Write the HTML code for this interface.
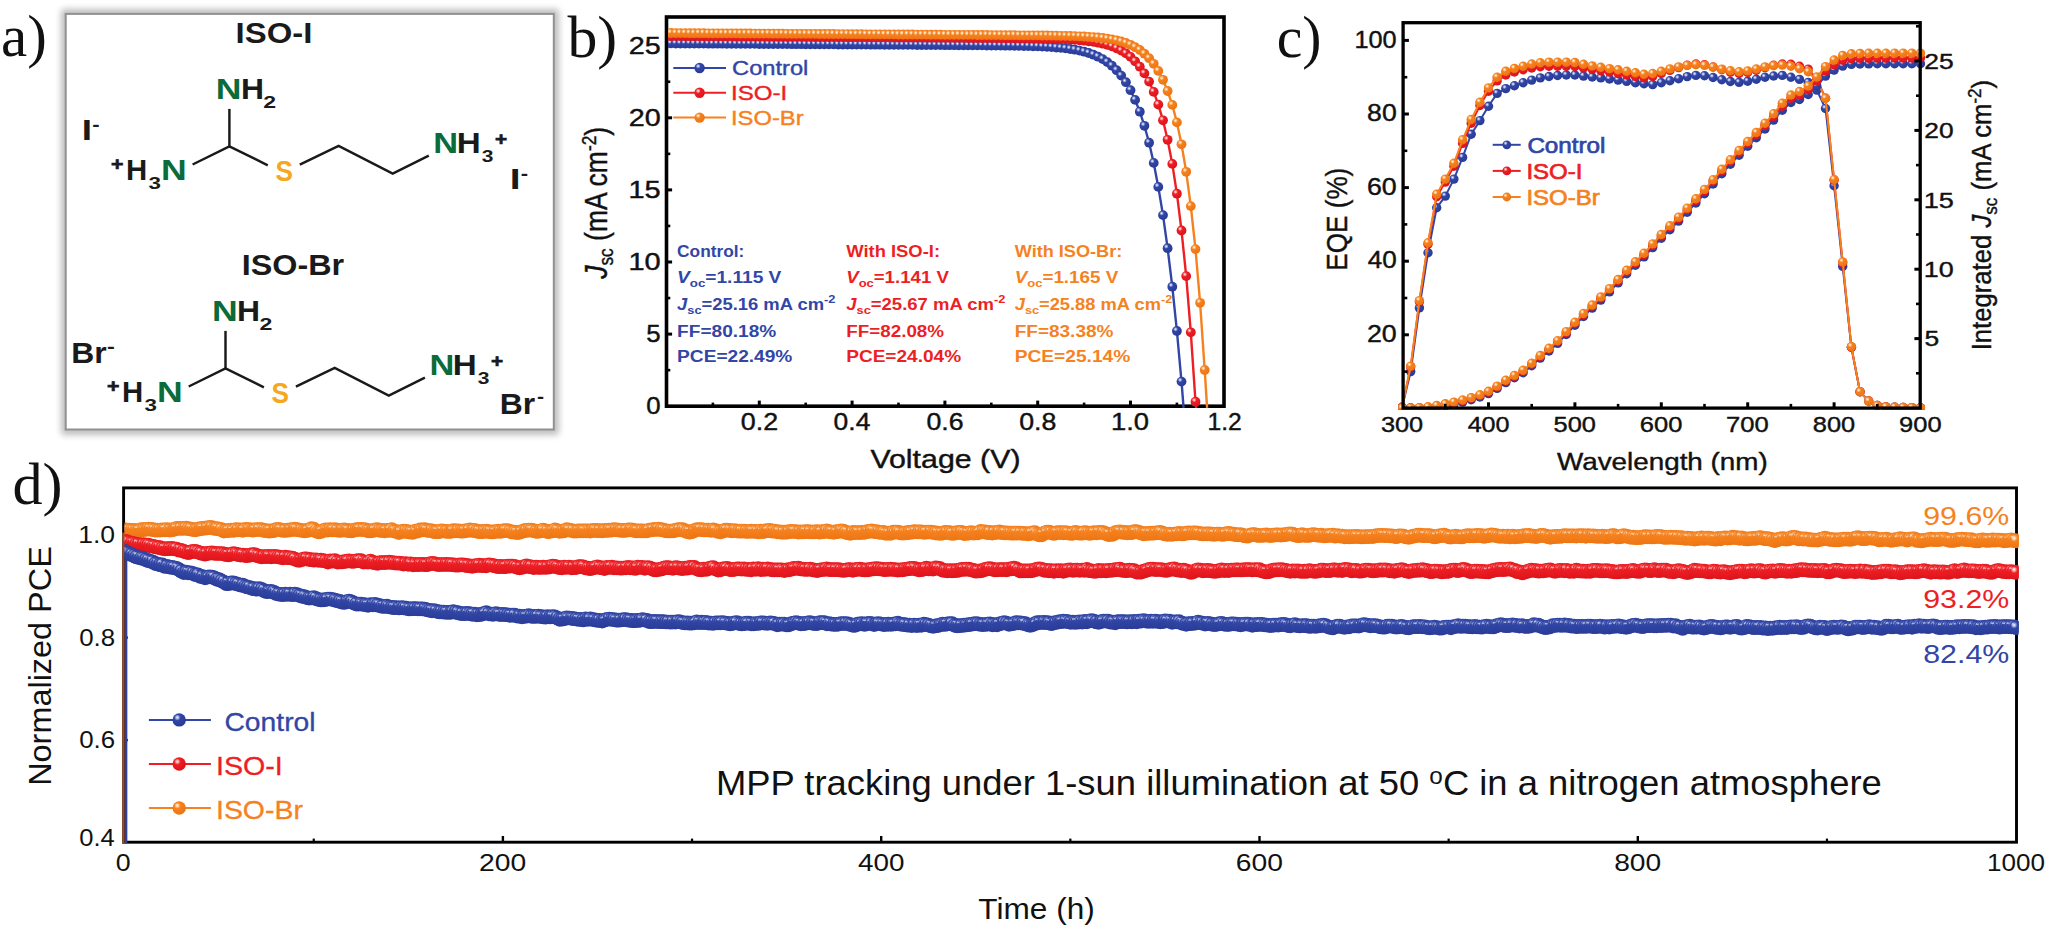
<!DOCTYPE html>
<html lang="en"><head><meta charset="utf-8"><title>ISO-I / ISO-Br perovskite solar cells figure</title>
<style>
html,body{margin:0;padding:0;background:#fff;}
body{width:2054px;height:931px;overflow:hidden;}
svg{display:block;font-family:"Liberation Sans", Arial, Helvetica, sans-serif;}
text{white-space:pre;}
.sf{font-family:"Liberation Serif", "Times New Roman", Times, serif;}
</style></head><body>
<svg width="2054" height="931" viewBox="0 0 2054 931">
<defs>
<radialGradient id="gB" cx="0.36" cy="0.32" r="0.62"><stop offset="0" stop-color="#f4f5fd"/><stop offset="0.13" stop-color="#bcc3ea"/><stop offset="0.38" stop-color="#3146a6"/><stop offset="1" stop-color="#2a3c98"/></radialGradient>
<radialGradient id="gR" cx="0.36" cy="0.32" r="0.62"><stop offset="0" stop-color="#fff3f3"/><stop offset="0.13" stop-color="#f9b9bb"/><stop offset="0.38" stop-color="#ed1f24"/><stop offset="1" stop-color="#df141c"/></radialGradient>
<radialGradient id="gO" cx="0.36" cy="0.32" r="0.62"><stop offset="0" stop-color="#fff7ee"/><stop offset="0.13" stop-color="#fcd7b0"/><stop offset="0.38" stop-color="#f5821f"/><stop offset="1" stop-color="#ee7613"/></radialGradient>
<marker id="mBb" markerWidth="11.8" markerHeight="11.8" refX="5.9" refY="5.9" markerUnits="userSpaceOnUse"><circle cx="5.9" cy="5.9" r="4.9" fill="url(#gB)"/></marker>
<marker id="mBc" markerWidth="11.4" markerHeight="11.4" refX="5.7" refY="5.7" markerUnits="userSpaceOnUse"><circle cx="5.7" cy="5.7" r="4.7" fill="url(#gB)"/></marker>
<marker id="mBd" markerWidth="16.7" markerHeight="16.7" refX="8.35" refY="8.35" markerUnits="userSpaceOnUse"><circle cx="8.35" cy="8.35" r="7.35" fill="url(#gB)"/></marker>
<marker id="mBl" markerWidth="15.2" markerHeight="15.2" refX="7.6" refY="7.6" markerUnits="userSpaceOnUse"><circle cx="7.6" cy="7.6" r="6.6" fill="url(#gB)"/></marker>
<marker id="mRb" markerWidth="11.8" markerHeight="11.8" refX="5.9" refY="5.9" markerUnits="userSpaceOnUse"><circle cx="5.9" cy="5.9" r="4.9" fill="url(#gR)"/></marker>
<marker id="mRc" markerWidth="11.4" markerHeight="11.4" refX="5.7" refY="5.7" markerUnits="userSpaceOnUse"><circle cx="5.7" cy="5.7" r="4.7" fill="url(#gR)"/></marker>
<marker id="mRd" markerWidth="16.7" markerHeight="16.7" refX="8.35" refY="8.35" markerUnits="userSpaceOnUse"><circle cx="8.35" cy="8.35" r="7.35" fill="url(#gR)"/></marker>
<marker id="mRl" markerWidth="15.2" markerHeight="15.2" refX="7.6" refY="7.6" markerUnits="userSpaceOnUse"><circle cx="7.6" cy="7.6" r="6.6" fill="url(#gR)"/></marker>
<marker id="mOb" markerWidth="11.8" markerHeight="11.8" refX="5.9" refY="5.9" markerUnits="userSpaceOnUse"><circle cx="5.9" cy="5.9" r="4.9" fill="url(#gO)"/></marker>
<marker id="mOc" markerWidth="11.4" markerHeight="11.4" refX="5.7" refY="5.7" markerUnits="userSpaceOnUse"><circle cx="5.7" cy="5.7" r="4.7" fill="url(#gO)"/></marker>
<marker id="mOd" markerWidth="16.7" markerHeight="16.7" refX="8.35" refY="8.35" markerUnits="userSpaceOnUse"><circle cx="8.35" cy="8.35" r="7.35" fill="url(#gO)"/></marker>
<marker id="mOl" markerWidth="15.2" markerHeight="15.2" refX="7.6" refY="7.6" markerUnits="userSpaceOnUse"><circle cx="7.6" cy="7.6" r="6.6" fill="url(#gO)"/></marker>

<filter id="blur" x="-10%" y="-10%" width="120%" height="120%"><feGaussianBlur stdDeviation="3.2"/></filter>
</defs>
<rect x="0" y="0" width="2054" height="931" fill="#fff"/>
<g>
<rect x="61" y="9" width="498" height="426" rx="3" fill="#8a8a8a" opacity="0.55" filter="url(#blur)"/>
<rect x="65.7" y="13.9" width="488.1" height="415.6" fill="#fff" stroke="#919191" stroke-width="2.0"/>
</g>
<text class="sf" transform="translate(1.03,56.40) scale(0.9833,1)" style="font-size:60px;fill:#111;">a)</text>
<text transform="translate(235.57,42.90) scale(1.1350,1)" style="font-size:29px;fill:#1a1a1a;font-weight:bold;">ISO-I</text>
<text transform="translate(215.87,99.40) scale(1.2444,1)" style="font-size:28.6px;fill:#0b6b3a;font-weight:bold;">N</text>
<text transform="translate(240.91,99.40) scale(1.1141,1)" style="font-size:28.6px;fill:#1a1a1a;font-weight:bold;">H</text>
<text transform="translate(263.30,107.80) scale(1.3908,1)" style="font-size:16.6px;fill:#1a1a1a;font-weight:bold;">2</text>
<text transform="translate(110.96,170.00) scale(1.1221,1)" style="font-size:19px;fill:#1a1a1a;font-weight:bold;" stroke="#1a1a1a" stroke-width="0.7">+</text>
<text transform="translate(125.98,180.30) scale(1.0252,1)" style="font-size:28.6px;fill:#1a1a1a;font-weight:bold;">H</text>
<text transform="translate(148.49,189.20) scale(1.3493,1)" style="font-size:16.6px;fill:#1a1a1a;font-weight:bold;">3</text>
<text transform="translate(160.97,180.30) scale(1.2444,1)" style="font-size:28.6px;fill:#0b6b3a;font-weight:bold;">N</text>
<text transform="translate(275.41,180.50) scale(0.9159,1)" style="font-size:28.6px;fill:#f5a81c;font-weight:bold;">S</text>
<text transform="translate(433.34,153.40) scale(1.2030,1)" style="font-size:28.6px;fill:#0b6b3a;font-weight:bold;">N</text>
<text transform="translate(456.72,153.40) scale(1.1615,1)" style="font-size:28.6px;fill:#1a1a1a;font-weight:bold;">H</text>
<text transform="translate(481.73,161.70) scale(1.2657,1)" style="font-size:16.6px;fill:#1a1a1a;font-weight:bold;">3</text>
<text transform="translate(494.98,144.50) scale(1.0909,1)" style="font-size:19px;fill:#1a1a1a;font-weight:bold;" stroke="#1a1a1a" stroke-width="0.7">+</text>
<polyline points="229.4,108.9 229.4,146.5" fill="none" stroke="#1a1a1a" stroke-width="2.45" stroke-linejoin="miter" stroke-linecap="butt"/>
<polyline points="192.6,164.5 229.4,146.3 267.8,165.3" fill="none" stroke="#1a1a1a" stroke-width="2.45" stroke-linejoin="miter" stroke-linecap="butt"/>
<polyline points="299.8,164.6 338.6,145.9 392.7,173.7 428.8,155.7" fill="none" stroke="#1a1a1a" stroke-width="2.45" stroke-linejoin="miter" stroke-linecap="butt"/>
<text transform="translate(81.87,140.40) scale(1.2941,1)" style="font-size:28.6px;fill:#1a1a1a;font-weight:bold;">I</text>
<text transform="translate(92.28,131.00) scale(1.1600,1)" style="font-size:19px;fill:#1a1a1a;font-weight:bold;">-</text>
<text transform="translate(509.84,189.00) scale(1.3647,1)" style="font-size:28.6px;fill:#1a1a1a;font-weight:bold;">I</text>
<text transform="translate(520.67,180.00) scale(1.1600,1)" style="font-size:19px;fill:#1a1a1a;font-weight:bold;">-</text>
<text transform="translate(241.71,274.80) scale(1.1151,1)" style="font-size:29px;fill:#1a1a1a;font-weight:bold;">ISO-Br</text>
<text transform="translate(211.97,321.40) scale(1.2444,1)" style="font-size:28.6px;fill:#0b6b3a;font-weight:bold;">N</text>
<text transform="translate(237.01,321.40) scale(1.1141,1)" style="font-size:28.6px;fill:#1a1a1a;font-weight:bold;">H</text>
<text transform="translate(259.40,329.80) scale(1.3908,1)" style="font-size:16.6px;fill:#1a1a1a;font-weight:bold;">2</text>
<text transform="translate(107.06,392.00) scale(1.1221,1)" style="font-size:19px;fill:#1a1a1a;font-weight:bold;" stroke="#1a1a1a" stroke-width="0.7">+</text>
<text transform="translate(122.08,402.30) scale(1.0252,1)" style="font-size:28.6px;fill:#1a1a1a;font-weight:bold;">H</text>
<text transform="translate(144.59,411.20) scale(1.3493,1)" style="font-size:16.6px;fill:#1a1a1a;font-weight:bold;">3</text>
<text transform="translate(157.07,402.30) scale(1.2444,1)" style="font-size:28.6px;fill:#0b6b3a;font-weight:bold;">N</text>
<text transform="translate(271.51,402.50) scale(0.9159,1)" style="font-size:28.6px;fill:#f5a81c;font-weight:bold;">S</text>
<text transform="translate(429.44,375.40) scale(1.2030,1)" style="font-size:28.6px;fill:#0b6b3a;font-weight:bold;">N</text>
<text transform="translate(452.82,375.40) scale(1.1615,1)" style="font-size:28.6px;fill:#1a1a1a;font-weight:bold;">H</text>
<text transform="translate(477.83,383.70) scale(1.2657,1)" style="font-size:16.6px;fill:#1a1a1a;font-weight:bold;">3</text>
<text transform="translate(491.08,366.50) scale(1.0909,1)" style="font-size:19px;fill:#1a1a1a;font-weight:bold;" stroke="#1a1a1a" stroke-width="0.7">+</text>
<polyline points="225.5,330.9 225.5,368.5" fill="none" stroke="#1a1a1a" stroke-width="2.45" stroke-linejoin="miter" stroke-linecap="butt"/>
<polyline points="188.7,386.5 225.5,368.3 263.9,387.3" fill="none" stroke="#1a1a1a" stroke-width="2.45" stroke-linejoin="miter" stroke-linecap="butt"/>
<polyline points="295.9,386.6 334.7,367.9 388.8,395.7 424.9,377.7" fill="none" stroke="#1a1a1a" stroke-width="2.45" stroke-linejoin="miter" stroke-linecap="butt"/>
<text transform="translate(71.31,363.10) scale(1.1153,1)" style="font-size:28.6px;fill:#1a1a1a;font-weight:bold;">Br</text>
<text transform="translate(107.02,353.30) scale(1.2400,1)" style="font-size:19px;fill:#1a1a1a;font-weight:bold;">-</text>
<text transform="translate(499.71,413.50) scale(1.1153,1)" style="font-size:28.6px;fill:#1a1a1a;font-weight:bold;">Br</text>
<text transform="translate(536.90,402.70) scale(1.1200,1)" style="font-size:19px;fill:#1a1a1a;font-weight:bold;">-</text>
<rect x="666.5" y="17.0" width="557.5" height="389.2" fill="#fff"/>
<clipPath id="clipb"><rect x="668.2" y="17.0" width="555.8" height="391.0"/></clipPath>
<g transform="translate(677.10,257.40) scale(1.0183,1)">
<text x="0.00" y="0.00" style="font-size:17.0px;fill:#3146a6;font-weight:bold;">Control:</text>
</g>
<g transform="translate(677.10,282.60) scale(1.1258,1)">
<text x="0.00" y="0.00" style="font-size:17.0px;fill:#3146a6;font-weight:bold;font-style:italic;">V</text>
<text x="11.34" y="4.60" style="font-size:11.8px;fill:#3146a6;font-weight:bold;">oc</text>
<text x="25.05" y="0.00" style="font-size:17.0px;fill:#3146a6;font-weight:bold;">=1.115 V</text>
</g>
<g transform="translate(677.10,309.70) scale(1.0826,1)">
<text x="0.00" y="0.00" style="font-size:17.0px;fill:#3146a6;font-weight:bold;font-style:italic;">J</text>
<text x="9.46" y="4.60" style="font-size:11.8px;fill:#3146a6;font-weight:bold;">sc</text>
<text x="22.53" y="0.00" style="font-size:17.0px;fill:#3146a6;font-weight:bold;">=25.16 mA cm</text>
<text x="135.77" y="-6.80" style="font-size:11.8px;fill:#3146a6;font-weight:bold;">-2</text>
</g>
<g transform="translate(677.10,337.10) scale(1.1227,1)">
<text x="0.00" y="0.00" style="font-size:17.0px;fill:#3146a6;font-weight:bold;">FF=80.18%</text>
</g>
<g transform="translate(677.10,362.30) scale(1.1244,1)">
<text x="0.00" y="0.00" style="font-size:17.0px;fill:#3146a6;font-weight:bold;">PCE=22.49%</text>
</g>
<g transform="translate(846.20,257.40) scale(1.0828,1)">
<text x="0.00" y="0.00" style="font-size:17.0px;fill:#ed1f24;font-weight:bold;">With ISO-I:</text>
</g>
<g transform="translate(846.20,282.60) scale(1.0985,1)">
<text x="0.00" y="0.00" style="font-size:17.0px;fill:#ed1f24;font-weight:bold;font-style:italic;">V</text>
<text x="11.34" y="4.60" style="font-size:11.8px;fill:#ed1f24;font-weight:bold;">oc</text>
<text x="25.05" y="0.00" style="font-size:17.0px;fill:#ed1f24;font-weight:bold;">=1.141 V</text>
</g>
<g transform="translate(846.20,309.70) scale(1.0894,1)">
<text x="0.00" y="0.00" style="font-size:17.0px;fill:#ed1f24;font-weight:bold;font-style:italic;">J</text>
<text x="9.46" y="4.60" style="font-size:11.8px;fill:#ed1f24;font-weight:bold;">sc</text>
<text x="22.53" y="0.00" style="font-size:17.0px;fill:#ed1f24;font-weight:bold;">=25.67 mA cm</text>
<text x="135.77" y="-6.80" style="font-size:11.8px;fill:#ed1f24;font-weight:bold;">-2</text>
</g>
<g transform="translate(846.20,337.10) scale(1.1080,1)">
<text x="0.00" y="0.00" style="font-size:17.0px;fill:#ed1f24;font-weight:bold;">FF=82.08%</text>
</g>
<g transform="translate(846.20,362.30) scale(1.1215,1)">
<text x="0.00" y="0.00" style="font-size:17.0px;fill:#ed1f24;font-weight:bold;">PCE=24.04%</text>
</g>
<g transform="translate(1014.70,257.40) scale(1.0665,1)">
<text x="0.00" y="0.00" style="font-size:17.0px;fill:#f5821f;font-weight:bold;">With ISO-Br:</text>
</g>
<g transform="translate(1014.70,282.60) scale(1.1070,1)">
<text x="0.00" y="0.00" style="font-size:17.0px;fill:#f5821f;font-weight:bold;font-style:italic;">V</text>
<text x="11.34" y="4.60" style="font-size:11.8px;fill:#f5821f;font-weight:bold;">oc</text>
<text x="25.05" y="0.00" style="font-size:17.0px;fill:#f5821f;font-weight:bold;">=1.165 V</text>
</g>
<g transform="translate(1014.70,309.70) scale(1.0778,1)">
<text x="0.00" y="0.00" style="font-size:17.0px;fill:#f5821f;font-weight:bold;font-style:italic;">J</text>
<text x="9.46" y="4.60" style="font-size:11.8px;fill:#f5821f;font-weight:bold;">sc</text>
<text x="22.53" y="0.00" style="font-size:17.0px;fill:#f5821f;font-weight:bold;">=25.88 mA cm</text>
<text x="135.77" y="-6.80" style="font-size:11.8px;fill:#f5821f;font-weight:bold;">-2</text>
</g>
<g transform="translate(1014.70,337.10) scale(1.1182,1)">
<text x="0.00" y="0.00" style="font-size:17.0px;fill:#f5821f;font-weight:bold;">FF=83.38%</text>
</g>
<g transform="translate(1014.70,362.30) scale(1.1283,1)">
<text x="0.00" y="0.00" style="font-size:17.0px;fill:#f5821f;font-weight:bold;">PCE=25.14%</text>
</g>
<rect x="666.5" y="17.0" width="557.5" height="389.2" fill="none" stroke="#000" stroke-width="3.6"/>
<line x1="666.50" y1="334.10" x2="672.10" y2="334.10" stroke="#000" stroke-width="3.0"/>
<line x1="666.50" y1="262.00" x2="672.10" y2="262.00" stroke="#000" stroke-width="3.0"/>
<line x1="666.50" y1="189.90" x2="672.10" y2="189.90" stroke="#000" stroke-width="3.0"/>
<line x1="666.50" y1="117.80" x2="672.10" y2="117.80" stroke="#000" stroke-width="3.0"/>
<line x1="666.50" y1="45.70" x2="672.10" y2="45.70" stroke="#000" stroke-width="3.0"/>
<line x1="666.50" y1="370.15" x2="670.30" y2="370.15" stroke="#000" stroke-width="2.6"/>
<line x1="666.50" y1="298.05" x2="670.30" y2="298.05" stroke="#000" stroke-width="2.6"/>
<line x1="666.50" y1="225.95" x2="670.30" y2="225.95" stroke="#000" stroke-width="2.6"/>
<line x1="666.50" y1="153.85" x2="670.30" y2="153.85" stroke="#000" stroke-width="2.6"/>
<line x1="666.50" y1="81.75" x2="670.30" y2="81.75" stroke="#000" stroke-width="2.6"/>
<line x1="759.30" y1="406.20" x2="759.30" y2="400.60" stroke="#000" stroke-width="3.0"/>
<line x1="852.10" y1="406.20" x2="852.10" y2="400.60" stroke="#000" stroke-width="3.0"/>
<line x1="944.90" y1="406.20" x2="944.90" y2="400.60" stroke="#000" stroke-width="3.0"/>
<line x1="1037.70" y1="406.20" x2="1037.70" y2="400.60" stroke="#000" stroke-width="3.0"/>
<line x1="1130.50" y1="406.20" x2="1130.50" y2="400.60" stroke="#000" stroke-width="3.0"/>
<line x1="712.90" y1="406.20" x2="712.90" y2="402.60" stroke="#000" stroke-width="2.6"/>
<line x1="805.70" y1="406.20" x2="805.70" y2="402.60" stroke="#000" stroke-width="2.6"/>
<line x1="898.50" y1="406.20" x2="898.50" y2="402.60" stroke="#000" stroke-width="2.6"/>
<line x1="991.30" y1="406.20" x2="991.30" y2="402.60" stroke="#000" stroke-width="2.6"/>
<line x1="1084.10" y1="406.20" x2="1084.10" y2="402.60" stroke="#000" stroke-width="2.6"/>
<line x1="1176.90" y1="406.20" x2="1176.90" y2="402.60" stroke="#000" stroke-width="2.6"/>
<g clip-path="url(#clipb)">
<line x1="1181.54" y1="381.60" x2="1183.58" y2="407.93" stroke="#3146a6" stroke-width="2.4"/>
<polyline points="666.5,43.4 671.1,43.4 675.8,43.5 680.4,43.5 685.1,43.5 689.7,43.5 694.3,43.6 699.0,43.6 703.6,43.6 708.3,43.7 712.9,43.7 717.5,43.7 722.2,43.7 726.8,43.8 731.5,43.8 736.1,43.8 740.7,43.9 745.4,43.9 750.0,43.9 754.7,43.9 759.3,44.0 763.9,44.0 768.6,44.0 773.2,44.1 777.9,44.1 782.5,44.1 787.1,44.1 791.8,44.2 796.4,44.2 801.1,44.2 805.7,44.3 810.3,44.3 815.0,44.3 819.6,44.3 824.3,44.4 828.9,44.4 833.5,44.4 838.2,44.5 842.8,44.5 847.5,44.5 852.1,44.5 856.7,44.6 861.4,44.6 866.0,44.6 870.7,44.7 875.3,44.7 879.9,44.7 884.6,44.8 889.2,44.8 893.9,44.8 898.5,44.9 903.1,44.9 907.8,44.9 912.4,44.9 917.1,45.0 921.7,45.0 926.3,45.0 931.0,45.1 935.6,45.1 940.3,45.1 944.9,45.2 949.5,45.2 954.2,45.2 958.8,45.3 963.5,45.3 968.1,45.3 972.7,45.4 977.4,45.4 982.0,45.4 986.7,45.5 991.3,45.5 995.9,45.6 1000.6,45.6 1005.2,45.7 1009.9,45.7 1014.5,45.8 1019.1,45.9 1023.8,46.0 1028.4,46.1 1033.1,46.3 1037.7,46.4 1042.3,46.6 1047.0,46.8 1051.6,47.1 1056.3,47.5 1060.9,47.9 1065.5,48.4 1070.2,49.0 1074.8,49.7 1079.5,50.6 1084.1,51.7 1088.7,53.0 1093.4,54.7 1098.0,56.7 1102.7,59.1 1107.3,62.1 1111.9,65.7 1116.6,70.2 1121.2,75.6 1125.9,82.2 1130.5,90.2 1135.1,99.9 1139.8,111.7 1144.4,125.8 1149.1,142.7 1153.7,162.9 1158.3,186.9 1163.0,215.1 1167.6,248.2 1172.3,286.7 1176.9,331.0 1181.5,381.6" fill="none" stroke="#3146a6" stroke-width="2.4" stroke-linejoin="round" marker-start="url(#mBb)" marker-mid="url(#mBb)" marker-end="url(#mBb)"/>
<line x1="1195.46" y1="401.72" x2="1196.17" y2="407.93" stroke="#ed1f24" stroke-width="2.4"/>
<polyline points="666.5,36.0 671.1,36.1 675.8,36.1 680.4,36.1 685.1,36.2 689.7,36.2 694.3,36.2 699.0,36.2 703.6,36.3 708.3,36.3 712.9,36.3 717.5,36.4 722.2,36.4 726.8,36.4 731.5,36.4 736.1,36.5 740.7,36.5 745.4,36.5 750.0,36.6 754.7,36.6 759.3,36.6 763.9,36.6 768.6,36.7 773.2,36.7 777.9,36.7 782.5,36.8 787.1,36.8 791.8,36.8 796.4,36.8 801.1,36.9 805.7,36.9 810.3,36.9 815.0,37.0 819.6,37.0 824.3,37.0 828.9,37.0 833.5,37.1 838.2,37.1 842.8,37.1 847.5,37.2 852.1,37.2 856.7,37.2 861.4,37.3 866.0,37.3 870.7,37.3 875.3,37.3 879.9,37.4 884.6,37.4 889.2,37.4 893.9,37.5 898.5,37.5 903.1,37.5 907.8,37.5 912.4,37.6 917.1,37.6 921.7,37.6 926.3,37.7 931.0,37.7 935.6,37.7 940.3,37.8 944.9,37.8 949.5,37.8 954.2,37.9 958.8,37.9 963.5,37.9 968.1,38.0 972.7,38.0 977.4,38.0 982.0,38.1 986.7,38.1 991.3,38.1 995.9,38.1 1000.6,38.2 1005.2,38.2 1009.9,38.2 1014.5,38.3 1019.1,38.3 1023.8,38.4 1028.4,38.4 1033.1,38.5 1037.7,38.6 1042.3,38.7 1047.0,38.8 1051.6,38.9 1056.3,39.0 1060.9,39.2 1065.5,39.4 1070.2,39.6 1074.8,39.9 1079.5,40.3 1084.1,40.7 1088.7,41.3 1093.4,41.9 1098.0,42.7 1102.7,43.7 1107.3,44.9 1111.9,46.4 1116.6,48.3 1121.2,50.6 1125.9,53.4 1130.5,56.9 1135.1,61.3 1139.8,66.7 1144.4,73.4 1149.1,81.6 1153.7,91.9 1158.3,104.6 1163.0,120.3 1167.6,139.8 1172.3,163.9 1176.9,193.7 1181.5,230.5 1186.2,276.1 1190.8,332.3 1195.5,401.7" fill="none" stroke="#ed1f24" stroke-width="2.4" stroke-linejoin="round" marker-start="url(#mRb)" marker-mid="url(#mRb)" marker-end="url(#mRb)"/>
<line x1="1204.74" y1="369.96" x2="1207.09" y2="407.93" stroke="#f5821f" stroke-width="2.4"/>
<polyline points="666.5,33.0 671.1,33.0 675.8,33.1 680.4,33.1 685.1,33.1 689.7,33.2 694.3,33.2 699.0,33.2 703.6,33.2 708.3,33.3 712.9,33.3 717.5,33.3 722.2,33.4 726.8,33.4 731.5,33.4 736.1,33.4 740.7,33.5 745.4,33.5 750.0,33.5 754.7,33.6 759.3,33.6 763.9,33.6 768.6,33.6 773.2,33.7 777.9,33.7 782.5,33.7 787.1,33.8 791.8,33.8 796.4,33.8 801.1,33.8 805.7,33.9 810.3,33.9 815.0,33.9 819.6,34.0 824.3,34.0 828.9,34.0 833.5,34.0 838.2,34.1 842.8,34.1 847.5,34.1 852.1,34.2 856.7,34.2 861.4,34.2 866.0,34.3 870.7,34.3 875.3,34.3 879.9,34.3 884.6,34.4 889.2,34.4 893.9,34.4 898.5,34.5 903.1,34.5 907.8,34.5 912.4,34.5 917.1,34.6 921.7,34.6 926.3,34.6 931.0,34.7 935.6,34.7 940.3,34.7 944.9,34.8 949.5,34.8 954.2,34.8 958.8,34.8 963.5,34.9 968.1,34.9 972.7,34.9 977.4,35.0 982.0,35.0 986.7,35.0 991.3,35.1 995.9,35.1 1000.6,35.1 1005.2,35.2 1009.9,35.2 1014.5,35.2 1019.1,35.3 1023.8,35.3 1028.4,35.3 1033.1,35.4 1037.7,35.4 1042.3,35.5 1047.0,35.5 1051.6,35.6 1056.3,35.7 1060.9,35.8 1065.5,35.9 1070.2,36.0 1074.8,36.1 1079.5,36.3 1084.1,36.5 1088.7,36.8 1093.4,37.1 1098.0,37.5 1102.7,38.0 1107.3,38.6 1111.9,39.4 1116.6,40.3 1121.2,41.5 1125.9,43.0 1130.5,44.8 1135.1,47.2 1139.8,50.0 1144.4,53.7 1149.1,58.2 1153.7,63.8 1158.3,70.9 1163.0,79.8 1167.6,91.0 1172.3,104.9 1176.9,122.4 1181.5,144.3 1186.2,171.8 1190.8,206.1 1195.5,249.1 1200.1,302.8 1204.7,370.0" fill="none" stroke="#f5821f" stroke-width="2.4" stroke-linejoin="round" marker-start="url(#mOb)" marker-mid="url(#mOb)" marker-end="url(#mOb)"/>
</g>
<text transform="translate(646.24,414.40) scale(1.1022,1)" style="font-size:23.4px;fill:#111;stroke:#111;stroke-width:0.4px;">0</text>
<text transform="translate(646.24,342.30) scale(1.1022,1)" style="font-size:23.4px;fill:#111;stroke:#111;stroke-width:0.4px;">5</text>
<text transform="translate(628.43,270.20) scale(1.2406,1)" style="font-size:23.4px;fill:#111;stroke:#111;stroke-width:0.4px;">10</text>
<text transform="translate(628.43,198.10) scale(1.2406,1)" style="font-size:23.4px;fill:#111;stroke:#111;stroke-width:0.4px;">15</text>
<text transform="translate(628.72,126.00) scale(1.2292,1)" style="font-size:23.4px;fill:#111;stroke:#111;stroke-width:0.4px;">20</text>
<text transform="translate(628.72,53.90) scale(1.2292,1)" style="font-size:23.4px;fill:#111;stroke:#111;stroke-width:0.4px;">25</text>
<text transform="translate(740.80,430.20) scale(1.1475,1)" style="font-size:23.4px;fill:#111;stroke:#111;stroke-width:0.4px;">0.2</text>
<text transform="translate(833.61,430.20) scale(1.1290,1)" style="font-size:23.4px;fill:#111;stroke:#111;stroke-width:0.4px;">0.4</text>
<text transform="translate(926.40,430.20) scale(1.1429,1)" style="font-size:23.4px;fill:#111;stroke:#111;stroke-width:0.4px;">0.6</text>
<text transform="translate(1019.20,430.20) scale(1.1429,1)" style="font-size:23.4px;fill:#111;stroke:#111;stroke-width:0.4px;">0.8</text>
<text transform="translate(1110.95,430.20) scale(1.1715,1)" style="font-size:23.4px;fill:#111;stroke:#111;stroke-width:0.4px;">1.0</text>
<text transform="translate(1207.46,430.20) scale(1.0532,1)" style="font-size:23.4px;fill:#111;stroke:#111;stroke-width:0.4px;">1.2</text>
<text transform="translate(870.40,468.20) scale(1.1766,1)" style="font-size:25.8px;fill:#111;stroke:#111;stroke-width:0.4px;">Voltage (V)</text>
<g transform="translate(607.20,278.87) rotate(-90) scale(1.0196,1.1700)">
<text x="0.00" y="0.00" style="font-size:26px;fill:#111;font-style:italic;stroke:#111;stroke-width:0.35px;">J</text>
<text x="13.00" y="5.20" style="font-size:17px;fill:#111;stroke:#111;stroke-width:0.35px;">sc</text>
<text x="30.00" y="0.00" style="font-size:26px;fill:#111;stroke:#111;stroke-width:0.35px;"> (mA cm</text>
<text x="125.33" y="-9.20" style="font-size:17px;fill:#111;stroke:#111;stroke-width:0.35px;">-2</text>
<text x="140.45" y="0.00" style="font-size:26px;fill:#111;stroke:#111;stroke-width:0.35px;">)</text>
</g>
<line x1="673.30" y1="68.00" x2="726.00" y2="68.00" stroke="#3146a6" stroke-width="2.0"/>
<circle cx="699.6" cy="68.0" r="5.2" fill="url(#gB)"/>
<line x1="673.30" y1="92.80" x2="726.00" y2="92.80" stroke="#ed1f24" stroke-width="2.0"/>
<circle cx="699.6" cy="92.8" r="5.2" fill="url(#gR)"/>
<line x1="673.30" y1="117.60" x2="726.00" y2="117.60" stroke="#f5821f" stroke-width="2.0"/>
<circle cx="699.6" cy="117.6" r="5.2" fill="url(#gO)"/>
<text transform="translate(732.04,75.30) scale(1.1613,1)" style="font-size:20.4px;fill:#3146a6;" stroke="#3146a6" stroke-width="0.4">Control</text>
<text transform="translate(730.99,100.10) scale(1.1806,1)" style="font-size:20.4px;fill:#ed1f24;" stroke="#ed1f24" stroke-width="0.4">ISO-I</text>
<text transform="translate(731.02,124.90) scale(1.1642,1)" style="font-size:20.4px;fill:#f5821f;" stroke="#f5821f" stroke-width="0.4">ISO-Br</text>
<text class="sf" transform="translate(567.40,56.90) scale(0.9963,1)" style="font-size:60px;fill:#111;">b)</text>
<rect x="1403.1" y="22.7" width="517.1000000000001" height="385.40000000000003" fill="#fff"/>
<clipPath id="clipc"><rect x="1398.1" y="22.7" width="527.1000000000001" height="387.00000000000006"/></clipPath>
<g clip-path="url(#clipc)">
<polyline points="1402.1,407.3 1410.7,371.6 1419.4,307.9 1428.0,252.7 1436.7,207.8 1445.3,196.1 1453.9,179.1 1462.6,157.4 1471.2,134.2 1479.9,120.6 1488.5,106.3 1497.1,93.4 1505.8,88.6 1514.4,85.7 1523.1,82.7 1531.7,80.1 1540.3,77.9 1549.0,76.5 1557.6,75.5 1566.3,75.0 1574.9,75.0 1583.5,76.1 1592.2,77.0 1600.8,77.9 1609.5,79.0 1618.1,80.1 1626.7,81.4 1635.4,82.7 1644.0,83.8 1652.7,84.6 1661.3,82.7 1669.9,80.7 1678.6,78.7 1687.2,76.6 1695.9,75.4 1704.5,75.7 1713.1,77.5 1721.8,79.8 1730.4,81.5 1739.1,82.4 1747.7,81.2 1756.3,79.2 1765.0,77.2 1773.6,76.0 1782.3,75.4 1790.9,77.2 1799.5,79.4 1808.2,82.4 1816.8,90.1 1825.5,108.5 1834.1,185.8 1842.7,266.4 1851.4,347.3 1860.0,391.8 1868.7,401.0 1877.3,405.5 1885.9,406.9 1894.6,407.3 1903.2,407.5 1911.9,407.6 1920.5,407.7" fill="none" stroke="#3146a6" stroke-width="2.0" stroke-linejoin="round" marker-start="url(#mBc)" marker-mid="url(#mBc)" marker-end="url(#mBc)"/>
<polyline points="1402.1,407.3 1410.7,366.8 1419.4,301.7 1428.0,244.3 1436.7,196.8 1445.3,182.1 1453.9,166.3 1462.6,143.4 1471.2,123.2 1479.9,105.5 1488.5,91.2 1497.1,80.9 1505.8,75.0 1514.4,72.0 1523.1,69.8 1531.7,68.0 1540.3,66.8 1549.0,66.2 1557.6,66.2 1566.3,66.2 1574.9,66.5 1583.5,68.0 1592.2,69.3 1600.8,70.6 1609.5,72.0 1618.1,73.5 1626.7,75.0 1635.4,76.5 1644.0,77.9 1652.7,76.5 1661.3,73.5 1669.9,70.4 1678.6,67.6 1687.2,65.2 1695.9,64.0 1704.5,64.7 1713.1,67.0 1721.8,69.8 1730.4,72.2 1739.1,73.5 1747.7,72.4 1756.3,70.2 1765.0,67.6 1773.6,65.3 1782.3,64.0 1790.9,64.3 1799.5,66.2 1808.2,69.1 1816.8,78.7 1825.5,98.2 1834.1,180.2 1842.7,262.7 1851.4,347.3 1860.0,391.8 1868.7,401.0 1877.3,405.5 1885.9,406.9 1894.6,407.3 1903.2,407.5 1911.9,407.6 1920.5,407.7" fill="none" stroke="#ed1f24" stroke-width="2.0" stroke-linejoin="round" marker-start="url(#mRc)" marker-mid="url(#mRc)" marker-end="url(#mRc)"/>
<polyline points="1402.1,407.3 1410.7,366.1 1419.4,300.6 1428.0,242.8 1436.7,194.2 1445.3,179.1 1453.9,163.3 1462.6,139.8 1471.2,119.5 1479.9,102.2 1488.5,87.9 1497.1,77.2 1505.8,71.3 1514.4,68.4 1523.1,66.2 1531.7,64.0 1540.3,62.7 1549.0,62.1 1557.6,62.1 1566.3,62.1 1574.9,62.5 1583.5,64.3 1592.2,65.9 1600.8,67.3 1609.5,68.6 1618.1,69.8 1626.7,71.3 1635.4,72.8 1644.0,74.3 1652.7,73.5 1661.3,71.3 1669.9,68.9 1678.6,66.9 1687.2,65.4 1695.9,64.7 1704.5,65.4 1713.1,67.1 1721.8,69.1 1730.4,70.8 1739.1,71.7 1747.7,70.9 1756.3,69.0 1765.0,66.9 1773.6,65.7 1782.3,65.1 1790.9,66.2 1799.5,68.7 1808.2,71.7 1816.8,80.9 1825.5,98.2 1834.1,179.5 1842.7,261.9 1851.4,346.6 1860.0,391.8 1868.7,401.0 1877.3,405.5 1885.9,406.9 1894.6,407.3 1903.2,407.5 1911.9,407.6 1920.5,407.7" fill="none" stroke="#f5821f" stroke-width="2.0" stroke-linejoin="round" marker-start="url(#mOc)" marker-mid="url(#mOc)" marker-end="url(#mOc)"/>
<polyline points="1402.1,408.0 1410.7,408.0 1419.4,408.0 1428.0,408.0 1436.7,407.5 1445.3,406.0 1453.9,404.2 1462.6,402.1 1471.2,399.8 1479.9,397.0 1488.5,393.6 1497.1,388.4 1505.8,382.6 1514.4,377.8 1523.1,372.7 1531.7,365.8 1540.3,358.1 1549.0,351.0 1557.6,343.4 1566.3,334.5 1574.9,325.2 1583.5,316.5 1592.2,308.1 1600.8,300.1 1609.5,291.9 1618.1,282.9 1626.7,273.8 1635.4,265.3 1644.0,256.9 1652.7,247.6 1661.3,238.3 1669.9,229.7 1678.6,221.1 1687.2,212.2 1695.9,203.0 1704.5,193.7 1713.1,184.0 1721.8,173.7 1730.4,164.3 1739.1,155.2 1747.7,146.3 1756.3,137.8 1765.0,129.0 1773.6,120.1 1782.3,110.2 1790.9,102.5 1799.5,99.5 1808.2,94.5 1816.8,86.0 1825.5,76.1 1834.1,70.1 1842.7,66.1 1851.4,64.4 1860.0,64.0 1868.7,63.9 1877.3,63.8 1885.9,63.8 1894.6,63.8 1903.2,63.7 1911.9,63.7 1920.5,63.7" fill="none" stroke="#3146a6" stroke-width="2.0" stroke-linejoin="round" marker-start="url(#mBc)" marker-mid="url(#mBc)" marker-end="url(#mBc)"/>
<polyline points="1402.1,408.0 1410.7,408.0 1419.4,408.0 1428.0,407.5 1436.7,406.1 1445.3,404.5 1453.9,402.8 1462.6,400.7 1471.2,398.3 1479.9,395.6 1488.5,392.1 1497.1,386.9 1505.8,381.0 1514.4,376.2 1523.1,371.1 1531.7,364.1 1540.3,356.4 1549.0,349.3 1557.6,341.6 1566.3,332.6 1574.9,323.3 1583.5,314.6 1592.2,306.1 1600.8,298.0 1609.5,289.8 1618.1,280.7 1626.7,271.6 1635.4,263.1 1644.0,254.6 1652.7,245.2 1661.3,235.9 1669.9,227.2 1678.6,218.6 1687.2,209.6 1695.9,200.4 1704.5,191.0 1713.1,181.3 1721.8,170.9 1730.4,161.4 1739.1,152.2 1747.7,143.3 1756.3,134.5 1765.0,125.5 1773.6,116.4 1782.3,106.2 1790.9,98.2 1799.5,95.0 1808.2,89.7 1816.8,81.0 1825.5,70.9 1834.1,64.6 1842.7,60.3 1851.4,58.7 1860.0,58.3 1868.7,58.2 1877.3,58.1 1885.9,58.1 1894.6,58.0 1903.2,58.0 1911.9,58.0 1920.5,58.0" fill="none" stroke="#ed1f24" stroke-width="2.0" stroke-linejoin="round" marker-start="url(#mRc)" marker-mid="url(#mRc)" marker-end="url(#mRc)"/>
<polyline points="1402.1,408.0 1410.7,407.9 1419.4,407.6 1428.0,406.8 1436.7,405.4 1445.3,403.8 1453.9,402.1 1462.6,400.0 1471.2,397.6 1479.9,394.8 1488.5,391.3 1497.1,386.1 1505.8,380.2 1514.4,375.4 1523.1,370.2 1531.7,363.2 1540.3,355.5 1549.0,348.3 1557.6,340.7 1566.3,331.6 1574.9,322.2 1583.5,313.5 1592.2,305.0 1600.8,296.9 1609.5,288.6 1618.1,279.5 1626.7,270.3 1635.4,261.8 1644.0,253.2 1652.7,243.9 1661.3,234.5 1669.9,225.8 1678.6,217.1 1687.2,208.1 1695.9,198.8 1704.5,189.4 1713.1,179.7 1721.8,169.3 1730.4,159.7 1739.1,150.5 1747.7,141.5 1756.3,132.5 1765.0,123.2 1773.6,113.7 1782.3,103.2 1790.9,95.0 1799.5,91.5 1808.2,86.0 1816.8,77.0 1825.5,66.6 1834.1,60.0 1842.7,55.4 1851.4,53.8 1860.0,53.4 1868.7,53.3 1877.3,53.2 1885.9,53.2 1894.6,53.1 1903.2,53.1 1911.9,53.1 1920.5,53.1" fill="none" stroke="#f5821f" stroke-width="2.0" stroke-linejoin="round" marker-start="url(#mOc)" marker-mid="url(#mOc)" marker-end="url(#mOc)"/>
</g>
<rect x="1403.1" y="22.7" width="517.1000000000001" height="385.40000000000003" fill="none" stroke="#000" stroke-width="3.3"/>
<line x1="1403.10" y1="334.80" x2="1408.90" y2="334.80" stroke="#000" stroke-width="3.0"/>
<line x1="1403.10" y1="261.20" x2="1408.90" y2="261.20" stroke="#000" stroke-width="3.0"/>
<line x1="1403.10" y1="187.60" x2="1408.90" y2="187.60" stroke="#000" stroke-width="3.0"/>
<line x1="1403.10" y1="114.00" x2="1408.90" y2="114.00" stroke="#000" stroke-width="3.0"/>
<line x1="1403.10" y1="40.40" x2="1408.90" y2="40.40" stroke="#000" stroke-width="3.0"/>
<line x1="1403.10" y1="371.60" x2="1407.30" y2="371.60" stroke="#000" stroke-width="2.6"/>
<line x1="1403.10" y1="298.00" x2="1407.30" y2="298.00" stroke="#000" stroke-width="2.6"/>
<line x1="1403.10" y1="224.40" x2="1407.30" y2="224.40" stroke="#000" stroke-width="2.6"/>
<line x1="1403.10" y1="150.80" x2="1407.30" y2="150.80" stroke="#000" stroke-width="2.6"/>
<line x1="1403.10" y1="77.20" x2="1407.30" y2="77.20" stroke="#000" stroke-width="2.6"/>
<line x1="1488.50" y1="408.10" x2="1488.50" y2="402.30" stroke="#000" stroke-width="3.0"/>
<line x1="1574.90" y1="408.10" x2="1574.90" y2="402.30" stroke="#000" stroke-width="3.0"/>
<line x1="1661.30" y1="408.10" x2="1661.30" y2="402.30" stroke="#000" stroke-width="3.0"/>
<line x1="1747.70" y1="408.10" x2="1747.70" y2="402.30" stroke="#000" stroke-width="3.0"/>
<line x1="1834.10" y1="408.10" x2="1834.10" y2="402.30" stroke="#000" stroke-width="3.0"/>
<line x1="1445.30" y1="408.10" x2="1445.30" y2="403.90" stroke="#000" stroke-width="2.6"/>
<line x1="1531.70" y1="408.10" x2="1531.70" y2="403.90" stroke="#000" stroke-width="2.6"/>
<line x1="1618.10" y1="408.10" x2="1618.10" y2="403.90" stroke="#000" stroke-width="2.6"/>
<line x1="1704.50" y1="408.10" x2="1704.50" y2="403.90" stroke="#000" stroke-width="2.6"/>
<line x1="1790.90" y1="408.10" x2="1790.90" y2="403.90" stroke="#000" stroke-width="2.6"/>
<line x1="1877.30" y1="408.10" x2="1877.30" y2="403.90" stroke="#000" stroke-width="2.6"/>
<line x1="1920.20" y1="338.60" x2="1914.40" y2="338.60" stroke="#000" stroke-width="3.0"/>
<line x1="1920.20" y1="269.20" x2="1914.40" y2="269.20" stroke="#000" stroke-width="3.0"/>
<line x1="1920.20" y1="199.80" x2="1914.40" y2="199.80" stroke="#000" stroke-width="3.0"/>
<line x1="1920.20" y1="130.40" x2="1914.40" y2="130.40" stroke="#000" stroke-width="3.0"/>
<line x1="1920.20" y1="61.00" x2="1914.40" y2="61.00" stroke="#000" stroke-width="3.0"/>
<line x1="1920.20" y1="373.30" x2="1916.00" y2="373.30" stroke="#000" stroke-width="2.6"/>
<line x1="1920.20" y1="303.90" x2="1916.00" y2="303.90" stroke="#000" stroke-width="2.6"/>
<line x1="1920.20" y1="234.50" x2="1916.00" y2="234.50" stroke="#000" stroke-width="2.6"/>
<line x1="1920.20" y1="165.10" x2="1916.00" y2="165.10" stroke="#000" stroke-width="2.6"/>
<line x1="1920.20" y1="95.70" x2="1916.00" y2="95.70" stroke="#000" stroke-width="2.6"/>
<line x1="1920.20" y1="26.30" x2="1916.00" y2="26.30" stroke="#000" stroke-width="2.6"/>
<text transform="translate(1366.96,341.90) scale(1.1535,1)" style="font-size:23.2px;fill:#111;stroke:#111;stroke-width:0.4px;">20</text>
<text transform="translate(1367.70,268.30) scale(1.1241,1)" style="font-size:23.2px;fill:#111;stroke:#111;stroke-width:0.4px;">40</text>
<text transform="translate(1366.96,194.70) scale(1.1535,1)" style="font-size:23.2px;fill:#111;stroke:#111;stroke-width:0.4px;">60</text>
<text transform="translate(1367.11,121.10) scale(1.1475,1)" style="font-size:23.2px;fill:#111;stroke:#111;stroke-width:0.4px;">80</text>
<text transform="translate(1354.42,47.50) scale(1.0889,1)" style="font-size:23.2px;fill:#111;stroke:#111;stroke-width:0.4px;">100</text>
<text transform="translate(1380.94,431.60) scale(1.1518,1)" style="font-size:22.0px;fill:#111;stroke:#111;stroke-width:0.4px;">300</text>
<text transform="translate(1467.63,431.60) scale(1.1437,1)" style="font-size:22.0px;fill:#111;stroke:#111;stroke-width:0.4px;">400</text>
<text transform="translate(1553.59,431.60) scale(1.1559,1)" style="font-size:22.0px;fill:#111;stroke:#111;stroke-width:0.4px;">500</text>
<text transform="translate(1639.84,431.60) scale(1.1600,1)" style="font-size:22.0px;fill:#111;stroke:#111;stroke-width:0.4px;">600</text>
<text transform="translate(1726.09,431.60) scale(1.1642,1)" style="font-size:22.0px;fill:#111;stroke:#111;stroke-width:0.4px;">700</text>
<text transform="translate(1812.79,431.60) scale(1.1559,1)" style="font-size:22.0px;fill:#111;stroke:#111;stroke-width:0.4px;">800</text>
<text transform="translate(1899.04,431.60) scale(1.1600,1)" style="font-size:22.0px;fill:#111;stroke:#111;stroke-width:0.4px;">900</text>
<text transform="translate(1924.59,346.30) scale(1.1586,1)" style="font-size:22.8px;fill:#111;stroke:#111;stroke-width:0.4px;">5</text>
<text transform="translate(1923.68,276.90) scale(1.1803,1)" style="font-size:22.8px;fill:#111;stroke:#111;stroke-width:0.4px;">10</text>
<text transform="translate(1923.67,207.50) scale(1.1868,1)" style="font-size:22.8px;fill:#111;stroke:#111;stroke-width:0.4px;">15</text>
<text transform="translate(1924.30,138.10) scale(1.1551,1)" style="font-size:22.8px;fill:#111;stroke:#111;stroke-width:0.4px;">20</text>
<text transform="translate(1924.29,68.70) scale(1.1613,1)" style="font-size:22.8px;fill:#111;stroke:#111;stroke-width:0.4px;">25</text>
<text transform="translate(1557.00,470.20) scale(1.1405,1)" style="font-size:24.4px;fill:#111;stroke:#111;stroke-width:0.4px;">Wavelength (nm)</text>
<g transform="translate(1347.40,270.79) rotate(-90) scale(1.0460,1.1500)">
<text x="0.00" y="0.00" style="font-size:25px;fill:#111;stroke:#111;stroke-width:0.35px;">EQE (%)</text>
</g>
<g transform="translate(1991.20,350.27) rotate(-90) scale(1.0691,1.1800)">
<text x="0.00" y="0.00" style="font-size:24.0px;fill:#111;stroke:#111;stroke-width:0.35px;">Integrated </text>
<text x="114.75" y="0.00" style="font-size:24.0px;fill:#111;font-style:italic;stroke:#111;stroke-width:0.35px;">J</text>
<text x="126.75" y="5.00" style="font-size:16px;fill:#111;stroke:#111;stroke-width:0.35px;">sc</text>
<text x="142.75" y="0.00" style="font-size:24.0px;fill:#111;stroke:#111;stroke-width:0.35px;"> (mA cm</text>
<text x="230.75" y="-8.60" style="font-size:16px;fill:#111;stroke:#111;stroke-width:0.35px;">-2</text>
<text x="244.97" y="0.00" style="font-size:24.0px;fill:#111;stroke:#111;stroke-width:0.35px;">)</text>
</g>
<line x1="1492.70" y1="144.80" x2="1520.70" y2="144.80" stroke="#3146a6" stroke-width="2.0"/>
<circle cx="1506.8" cy="144.8" r="4.4" fill="url(#gB)"/>
<text transform="translate(1527.38,152.60) scale(1.1212,1)" style="font-size:21.6px;fill:#3146a6;" stroke="#3146a6" stroke-width="0.7">Control</text>
<line x1="1492.70" y1="170.90" x2="1520.70" y2="170.90" stroke="#ed1f24" stroke-width="2.0"/>
<circle cx="1506.8" cy="170.9" r="4.4" fill="url(#gR)"/>
<text transform="translate(1526.41,178.70) scale(1.1123,1)" style="font-size:21.6px;fill:#ed1f24;" stroke="#ed1f24" stroke-width="0.7">ISO-I</text>
<line x1="1492.70" y1="197.00" x2="1520.70" y2="197.00" stroke="#f5821f" stroke-width="2.0"/>
<circle cx="1506.8" cy="197.0" r="4.4" fill="url(#gO)"/>
<text transform="translate(1526.42,204.80) scale(1.1115,1)" style="font-size:21.6px;fill:#f5821f;" stroke="#f5821f" stroke-width="0.7">ISO-Br</text>
<text class="sf" transform="translate(1276.63,56.70) scale(0.9629,1)" style="font-size:60px;fill:#111;">c)</text>
<rect x="123.6" y="487.9" width="1892.9" height="354.30000000000007" fill="#fff"/>
<rect x="123.6" y="487.9" width="1892.9" height="354.30000000000007" fill="none" stroke="#000" stroke-width="2.9"/>
<line x1="502.90" y1="842.20" x2="502.90" y2="836.00" stroke="#000" stroke-width="2.4"/>
<line x1="881.20" y1="842.20" x2="881.20" y2="836.00" stroke="#000" stroke-width="2.4"/>
<line x1="1259.50" y1="842.20" x2="1259.50" y2="836.00" stroke="#000" stroke-width="2.4"/>
<line x1="1637.80" y1="842.20" x2="1637.80" y2="836.00" stroke="#000" stroke-width="2.4"/>
<line x1="313.75" y1="842.20" x2="313.75" y2="838.60" stroke="#000" stroke-width="2.2"/>
<line x1="692.05" y1="842.20" x2="692.05" y2="838.60" stroke="#000" stroke-width="2.2"/>
<line x1="1070.35" y1="842.20" x2="1070.35" y2="838.60" stroke="#000" stroke-width="2.2"/>
<line x1="1448.65" y1="842.20" x2="1448.65" y2="838.60" stroke="#000" stroke-width="2.2"/>
<line x1="1826.95" y1="842.20" x2="1826.95" y2="838.60" stroke="#000" stroke-width="2.2"/>
<line x1="123.60" y1="740.10" x2="127.80" y2="740.10" stroke="#000" stroke-width="2.4"/>
<line x1="123.60" y1="637.60" x2="127.80" y2="637.60" stroke="#000" stroke-width="2.4"/>
<line x1="123.60" y1="535.10" x2="127.80" y2="535.10" stroke="#000" stroke-width="2.4"/>
<line x1="123.60" y1="791.35" x2="126.60" y2="791.35" stroke="#000" stroke-width="2.0"/>
<line x1="123.60" y1="688.85" x2="126.60" y2="688.85" stroke="#000" stroke-width="2.0"/>
<line x1="123.60" y1="586.35" x2="126.60" y2="586.35" stroke="#000" stroke-width="2.0"/>
<line x1="123.40" y1="843.60" x2="123.40" y2="532.52" stroke="#96502c" stroke-width="2.5"/>
<line x1="126.10" y1="843.60" x2="126.10" y2="554.21" stroke="#2f3f9e" stroke-width="2.5"/>
<clipPath id="clipd"><rect x="124.7" y="489.29999999999995" width="1894.0" height="353.1000000000001"/></clipPath>
<g clip-path="url(#clipd)">
<polyline points="124.6,529.5 127.0,530.4 129.3,530.1 131.7,530.3 134.1,530.4 136.4,530.6 138.8,530.8 141.2,529.7 143.5,529.6 145.9,529.3 148.2,529.0 150.6,529.3 153.0,529.5 155.3,530.1 157.7,530.1 160.1,530.1 162.4,529.8 164.8,529.8 167.2,529.5 169.5,530.1 171.9,529.8 174.3,529.3 176.6,528.4 179.0,528.4 181.3,528.3 183.7,528.4 186.1,528.1 188.4,528.7 190.8,529.1 193.2,529.6 195.5,529.8 197.9,529.2 200.3,528.7 202.6,528.4 205.0,528.2 207.4,527.9 209.7,527.4 212.1,527.6 214.4,528.5 216.8,528.5 219.2,529.0 221.5,529.5 223.9,531.1 226.3,530.6 228.6,530.6 231.0,530.1 233.4,530.5 235.7,529.5 238.1,529.9 240.5,529.9 242.8,530.4 245.2,529.4 247.5,529.6 249.9,529.6 252.3,530.1 254.6,529.8 257.0,529.5 259.4,529.5 261.7,529.7 264.1,530.6 266.5,530.5 268.8,531.2 271.2,530.9 273.6,530.7 275.9,529.6 278.3,529.3 280.6,529.8 283.0,530.5 285.4,530.3 287.7,530.2 290.1,529.8 292.5,529.5 294.8,529.2 297.2,529.7 299.6,530.0 301.9,530.5 304.3,530.9 306.7,530.7 309.0,529.8 311.4,528.7 313.8,529.1 316.1,531.1 318.5,531.9 320.8,531.6 323.2,530.6 325.6,529.8 327.9,530.1 330.3,529.6 332.7,530.0 335.0,529.6 337.4,530.2 339.8,530.3 342.1,530.2 344.5,529.8 346.9,530.3 349.2,530.7 351.6,530.8 353.9,530.3 356.3,529.7 358.7,529.3 361.0,529.3 363.4,529.7 365.8,529.8 368.1,530.8 370.5,530.8 372.9,530.6 375.2,529.9 377.6,529.7 380.0,530.5 382.3,530.3 384.7,530.9 387.0,530.4 389.4,530.4 391.8,529.6 394.1,531.0 396.5,531.5 398.9,532.6 401.2,531.5 403.6,531.2 406.0,531.3 408.3,531.8 410.7,532.2 413.1,532.3 415.4,531.1 417.8,531.1 420.1,529.9 422.5,529.9 424.9,529.7 427.2,530.4 429.6,530.5 432.0,530.8 434.3,531.7 436.7,531.7 439.1,531.7 441.4,530.8 443.8,531.0 446.2,531.4 448.5,531.5 450.9,531.5 453.2,530.5 455.6,530.8 458.0,530.8 460.3,531.1 462.7,531.2 465.1,530.9 467.4,530.5 469.8,529.9 472.2,530.5 474.5,530.3 476.9,531.2 479.3,531.7 481.6,531.7 484.0,531.3 486.3,531.2 488.7,531.5 491.1,532.0 493.4,531.8 495.8,531.5 498.2,531.0 500.5,531.5 502.9,530.8 505.3,530.5 507.6,530.6 510.0,531.3 512.4,532.0 514.7,532.2 517.1,532.6 519.5,532.3 521.8,531.5 524.2,530.7 526.5,530.4 528.9,530.1 531.3,530.2 533.6,530.6 536.0,531.3 538.4,531.4 540.7,530.8 543.1,530.1 545.5,530.9 547.8,531.7 550.2,531.3 552.6,531.0 554.9,529.9 557.3,530.7 559.6,531.3 562.0,531.1 564.4,530.8 566.7,529.7 569.1,530.0 571.5,530.5 573.8,531.1 576.2,531.1 578.6,530.9 580.9,530.8 583.3,530.8 585.7,530.8 588.0,530.9 590.4,531.1 592.7,530.3 595.1,530.3 597.5,530.7 599.8,530.7 602.2,530.8 604.6,530.4 606.9,530.5 609.3,530.2 611.7,530.1 614.0,529.7 616.4,529.8 618.8,530.0 621.1,530.5 623.5,530.3 625.8,530.4 628.2,529.9 630.6,529.9 632.9,530.0 635.3,530.8 637.7,530.8 640.0,530.8 642.4,530.8 644.8,531.0 647.1,530.8 649.5,530.0 651.9,529.9 654.2,529.3 656.6,529.5 658.9,529.1 661.3,529.7 663.7,530.2 666.0,530.8 668.4,531.0 670.8,531.0 673.1,530.9 675.5,530.3 677.9,529.6 680.2,529.5 682.6,529.7 685.0,530.7 687.3,531.7 689.7,532.2 692.0,531.7 694.4,530.5 696.8,529.5 699.1,529.5 701.5,529.5 703.9,530.0 706.2,530.0 708.6,530.0 711.0,530.3 713.3,529.8 715.7,530.5 718.1,531.5 720.4,531.9 722.8,531.2 725.2,530.0 727.5,530.2 729.9,530.4 732.2,531.0 734.6,530.5 737.0,531.0 739.3,531.2 741.7,531.1 744.1,531.1 746.4,531.3 748.8,531.5 751.2,531.1 753.5,531.4 755.9,531.3 758.3,531.8 760.6,531.1 763.0,531.7 765.3,530.8 767.7,530.7 770.1,530.3 772.4,531.2 774.8,531.0 777.2,531.8 779.5,531.9 781.9,532.2 784.3,532.2 786.6,532.2 789.0,531.6 791.4,531.3 793.7,531.5 796.1,531.6 798.4,532.1 800.8,531.9 803.2,532.0 805.5,531.6 807.9,531.7 810.3,531.8 812.6,532.0 815.0,531.9 817.4,531.7 819.7,532.2 822.1,531.5 824.5,531.6 826.8,530.9 829.2,531.7 831.5,532.0 833.9,532.3 836.3,531.7 838.6,531.5 841.0,530.9 843.4,531.2 845.7,532.2 848.1,533.0 850.5,533.3 852.8,532.4 855.2,532.6 857.6,532.5 859.9,532.6 862.3,532.3 864.6,532.4 867.0,531.6 869.4,531.4 871.7,530.8 874.1,531.6 876.5,531.7 878.8,532.2 881.2,532.5 883.6,532.4 885.9,533.4 888.3,533.1 890.7,533.4 893.0,532.1 895.4,532.2 897.8,532.0 900.1,532.9 902.5,533.1 904.8,533.0 907.2,532.7 909.6,532.3 911.9,532.2 914.3,531.7 916.7,531.9 919.0,531.8 921.4,531.9 923.8,532.3 926.1,532.2 928.5,532.0 930.9,532.0 933.2,532.5 935.6,532.8 937.9,533.2 940.3,533.4 942.7,533.1 945.0,532.4 947.4,532.5 949.8,532.7 952.1,533.5 954.5,533.2 956.9,532.6 959.2,532.3 961.6,532.3 964.0,533.6 966.3,533.3 968.7,533.2 971.0,532.6 973.4,533.1 975.8,533.0 978.1,532.9 980.5,531.4 982.9,531.8 985.2,531.9 987.6,532.7 990.0,532.4 992.3,533.1 994.7,532.5 997.1,532.3 999.4,531.9 1001.8,532.7 1004.1,532.9 1006.5,532.8 1008.9,533.0 1011.2,533.1 1013.6,533.2 1016.0,533.1 1018.3,533.0 1020.7,533.2 1023.1,533.3 1025.4,533.5 1027.8,533.9 1030.2,533.6 1032.5,532.9 1034.9,532.6 1037.2,534.1 1039.6,535.0 1042.0,534.9 1044.3,533.0 1046.7,532.0 1049.1,532.2 1051.4,532.8 1053.8,533.5 1056.2,532.8 1058.5,532.5 1060.9,532.5 1063.3,532.8 1065.6,532.6 1068.0,533.0 1070.3,533.4 1072.7,533.4 1075.1,532.3 1077.4,532.8 1079.8,533.2 1082.2,533.2 1084.5,532.5 1086.9,532.9 1089.3,533.3 1091.6,533.1 1094.0,532.7 1096.4,533.0 1098.7,532.4 1101.1,532.4 1103.5,532.6 1105.8,533.6 1108.2,534.6 1110.5,534.4 1112.9,534.3 1115.3,532.5 1117.6,532.1 1120.0,531.9 1122.4,532.4 1124.7,532.4 1127.1,532.8 1129.5,532.7 1131.8,532.7 1134.2,531.7 1136.6,531.7 1138.9,532.3 1141.3,533.1 1143.6,533.8 1146.0,533.5 1148.4,533.4 1150.7,533.2 1153.1,533.2 1155.5,533.0 1157.8,532.7 1160.2,532.3 1162.6,533.2 1164.9,534.0 1167.3,534.3 1169.7,534.2 1172.0,534.3 1174.4,534.0 1176.7,533.8 1179.1,533.3 1181.5,533.8 1183.8,533.8 1186.2,533.2 1188.6,532.8 1190.9,533.0 1193.3,532.9 1195.7,532.9 1198.0,533.1 1200.4,533.6 1202.8,534.0 1205.1,533.8 1207.5,533.9 1209.8,533.9 1212.2,534.2 1214.6,534.3 1216.9,534.0 1219.3,534.0 1221.7,534.4 1224.0,534.3 1226.4,533.7 1228.8,533.4 1231.1,533.8 1233.5,534.2 1235.9,534.7 1238.2,534.9 1240.6,534.5 1242.9,535.3 1245.3,536.0 1247.7,536.2 1250.0,535.0 1252.4,534.6 1254.8,534.5 1257.1,535.3 1259.5,535.5 1261.9,535.5 1264.2,535.2 1266.6,534.9 1269.0,535.5 1271.3,535.5 1273.7,535.2 1276.1,534.9 1278.4,534.9 1280.8,535.1 1283.1,534.9 1285.5,534.7 1287.9,534.0 1290.2,533.8 1292.6,534.2 1295.0,535.1 1297.3,535.6 1299.7,535.7 1302.1,534.7 1304.4,535.4 1306.8,535.5 1309.2,535.5 1311.5,534.9 1313.9,534.5 1316.2,535.0 1318.6,535.3 1321.0,535.2 1323.3,535.8 1325.7,535.8 1328.1,535.5 1330.4,535.3 1332.8,535.1 1335.2,536.2 1337.5,535.5 1339.9,536.1 1342.3,536.1 1344.6,536.8 1347.0,536.6 1349.3,536.9 1351.7,536.7 1354.1,536.6 1356.4,536.3 1358.8,536.6 1361.2,536.8 1363.5,536.8 1365.9,536.6 1368.3,536.6 1370.6,536.5 1373.0,536.6 1375.4,535.8 1377.7,535.6 1380.1,535.3 1382.4,535.3 1384.8,535.7 1387.2,535.5 1389.5,535.9 1391.9,535.9 1394.3,536.3 1396.6,536.7 1399.0,535.9 1401.4,535.9 1403.7,536.1 1406.1,537.0 1408.5,537.3 1410.8,536.9 1413.2,536.2 1415.5,535.8 1417.9,535.2 1420.3,535.2 1422.6,535.7 1425.0,535.7 1427.4,535.5 1429.7,535.7 1432.1,536.3 1434.5,536.9 1436.8,536.6 1439.2,535.9 1441.6,535.6 1443.9,535.2 1446.3,535.9 1448.6,536.8 1451.0,537.1 1453.4,536.7 1455.7,536.2 1458.1,536.7 1460.5,537.0 1462.8,536.8 1465.2,536.0 1467.6,535.7 1469.9,535.8 1472.3,535.9 1474.7,535.8 1477.0,535.4 1479.4,535.7 1481.8,535.6 1484.1,536.5 1486.5,535.8 1488.8,535.7 1491.2,534.9 1493.6,535.2 1495.9,535.5 1498.3,536.2 1500.7,536.4 1503.0,536.1 1505.4,536.6 1507.8,536.1 1510.1,537.0 1512.5,536.0 1514.9,536.8 1517.2,536.6 1519.6,536.5 1521.9,536.2 1524.3,535.6 1526.7,535.7 1529.0,535.3 1531.4,536.1 1533.8,536.2 1536.1,536.6 1538.5,536.1 1540.9,535.4 1543.2,535.3 1545.6,536.0 1548.0,536.7 1550.3,537.3 1552.7,536.7 1555.0,536.6 1557.4,536.4 1559.8,536.5 1562.1,536.1 1564.5,535.7 1566.9,535.9 1569.2,535.9 1571.6,535.9 1574.0,535.8 1576.3,536.1 1578.7,535.7 1581.1,535.8 1583.4,535.7 1585.8,536.3 1588.1,535.7 1590.5,536.0 1592.9,535.8 1595.2,536.2 1597.6,536.4 1600.0,536.4 1602.3,536.2 1604.7,536.6 1607.1,536.6 1609.4,536.5 1611.8,535.6 1614.2,535.7 1616.5,536.8 1618.9,536.8 1621.2,536.7 1623.6,535.5 1626.0,536.1 1628.3,536.5 1630.7,537.4 1633.1,537.1 1635.4,537.7 1637.8,537.6 1640.2,537.6 1642.5,537.2 1644.9,536.7 1647.3,536.8 1649.6,536.9 1652.0,537.0 1654.4,536.9 1656.7,536.3 1659.1,536.5 1661.4,536.7 1663.8,537.4 1666.2,537.4 1668.5,537.4 1670.9,537.1 1673.3,537.4 1675.6,537.4 1678.0,537.6 1680.4,537.6 1682.7,537.9 1685.1,538.3 1687.5,538.2 1689.8,538.4 1692.2,538.5 1694.5,539.1 1696.9,538.7 1699.3,538.4 1701.6,537.8 1704.0,538.5 1706.4,538.0 1708.7,538.1 1711.1,538.5 1713.5,538.9 1715.8,539.2 1718.2,538.4 1720.6,538.8 1722.9,538.0 1725.3,537.9 1727.6,538.1 1730.0,538.0 1732.4,537.2 1734.7,537.5 1737.1,537.7 1739.5,538.4 1741.8,537.9 1744.2,538.6 1746.6,539.0 1748.9,538.8 1751.3,538.5 1753.7,538.4 1756.0,538.3 1758.4,537.9 1760.7,537.5 1763.1,538.4 1765.5,538.7 1767.8,538.7 1770.2,539.2 1772.6,539.9 1774.9,540.7 1777.3,539.7 1779.7,539.0 1782.0,538.6 1784.4,538.8 1786.8,539.1 1789.1,538.8 1791.5,537.5 1793.8,537.4 1796.2,537.5 1798.6,539.0 1800.9,538.6 1803.3,539.1 1805.7,538.8 1808.0,539.5 1810.4,539.7 1812.8,540.0 1815.1,540.0 1817.5,540.1 1819.9,539.5 1822.2,539.0 1824.6,538.1 1826.9,538.6 1829.3,539.3 1831.7,539.5 1834.0,539.8 1836.4,539.8 1838.8,539.9 1841.1,539.5 1843.5,539.1 1845.9,539.1 1848.2,539.2 1850.6,539.3 1853.0,538.8 1855.3,538.1 1857.7,537.7 1860.1,538.2 1862.4,538.7 1864.8,538.7 1867.1,538.3 1869.5,538.0 1871.9,538.1 1874.2,538.4 1876.6,538.8 1879.0,540.0 1881.3,539.7 1883.7,539.4 1886.1,539.2 1888.4,539.7 1890.8,540.3 1893.2,540.1 1895.5,539.5 1897.9,539.5 1900.2,538.5 1902.6,539.1 1905.0,539.3 1907.3,540.1 1909.7,539.2 1912.1,538.9 1914.4,538.8 1916.8,540.5 1919.2,540.4 1921.5,541.0 1923.9,540.3 1926.3,540.0 1928.6,539.5 1931.0,539.1 1933.3,539.6 1935.7,539.6 1938.1,539.7 1940.4,539.2 1942.8,539.0 1945.2,539.1 1947.5,539.8 1949.9,540.5 1952.3,540.5 1954.6,540.3 1957.0,539.7 1959.4,539.4 1961.7,539.0 1964.1,539.4 1966.4,539.6 1968.8,539.8 1971.2,539.6 1973.5,540.5 1975.9,540.9 1978.3,541.0 1980.6,540.0 1983.0,539.9 1985.4,540.4 1987.7,540.3 1990.1,540.3 1992.5,539.9 1994.8,540.2 1997.2,540.0 1999.5,540.0 2001.9,540.4 2004.3,540.9 2006.6,540.6 2009.0,540.4 2011.4,539.8 2013.7,540.7 2016.1,540.8" fill="none" stroke="#f5821f" stroke-width="3" stroke-linejoin="round" marker-start="url(#mOd)" marker-mid="url(#mOd)" marker-end="url(#mOd)"/>
<polyline points="123.6,526.1 128.3,526.7 133.1,527.0 137.8,527.4 142.5,526.2 147.2,525.6 152.0,526.1 156.7,526.7 161.4,526.4 166.2,526.1 170.9,526.4 175.6,525.0 180.3,524.9 185.1,524.7 189.8,525.7 194.5,526.4 199.3,525.3 204.0,524.8 208.7,524.0 213.4,525.1 218.2,525.6 222.9,527.7 227.6,527.2 232.4,527.1 237.1,526.5 241.8,527.0 246.5,526.2 251.3,526.7 256.0,526.1 260.7,526.3 265.5,527.1 270.2,527.5 274.9,526.2 279.6,526.4 284.4,526.9 289.1,526.4 293.8,525.8 298.6,526.6 303.3,527.5 308.0,526.4 312.8,525.7 317.5,528.5 322.2,527.2 326.9,526.7 331.7,526.6 336.4,526.8 341.1,526.8 345.9,526.9 350.6,527.4 355.3,526.3 360.0,525.9 364.8,526.4 369.5,527.4 374.2,526.5 379.0,527.1 383.7,527.5 388.4,527.0 393.1,527.6 397.9,529.2 402.6,527.8 407.3,528.4 412.1,528.9 416.8,527.7 421.5,526.5 426.2,527.0 431.0,527.4 435.7,528.3 440.4,527.4 445.2,528.0 449.9,528.1 454.6,527.4 459.3,527.7 464.1,527.5 468.8,526.5 473.5,526.9 478.3,528.3 483.0,527.9 487.7,528.1 492.4,528.4 497.2,527.6 501.9,527.4 506.6,527.2 511.4,528.6 516.1,529.2 520.8,528.1 525.5,527.0 530.3,526.8 535.0,527.9 539.7,527.4 544.5,527.5 549.2,527.9 553.9,526.5 558.6,527.9 563.4,527.4 568.1,526.6 572.8,527.7 577.6,527.5 582.3,527.4 587.0,527.5 591.7,526.9 596.5,527.3 601.2,527.4 605.9,527.1 610.7,526.7 615.4,526.4 620.1,527.1 624.8,527.0 629.6,526.5 634.3,527.4 639.0,527.4 643.8,527.6 648.5,526.6 653.2,525.9 657.9,525.7 662.7,526.8 667.4,527.6 672.1,527.5 676.9,526.2 681.6,526.3 686.3,528.3 691.0,528.3 695.8,526.1 700.5,526.1 705.2,526.6 710.0,526.9 714.7,527.1 719.4,528.5 724.2,526.6 728.9,527.0 733.6,527.1 738.3,527.8 743.1,527.7 747.8,528.1 752.5,528.0 757.3,528.4 762.0,528.3 766.7,527.3 771.4,527.8 776.2,528.4 780.9,528.8 785.6,528.8 790.4,527.9 795.1,528.2 799.8,528.5 804.5,528.2 809.3,528.4 814.0,528.5 818.7,528.8 823.5,528.2 828.2,528.3 832.9,528.9 837.6,528.1 842.4,527.8 847.1,529.6 851.8,529.0 856.6,529.1 861.3,528.9 866.0,528.2 870.7,527.4 875.5,528.3 880.2,529.1 884.9,530.0 889.7,530.0 894.4,528.8 899.1,529.5 903.8,529.6 908.6,528.9 913.3,528.3 918.0,528.4 922.8,528.9 927.5,528.6 932.2,529.1 936.9,529.8 941.7,529.7 946.4,529.1 951.1,530.1 955.9,529.2 960.6,528.9 965.3,529.9 970.0,529.2 974.8,529.6 979.5,528.0 984.2,528.5 989.0,529.0 993.7,529.1 998.4,528.5 1003.1,529.5 1007.9,529.6 1012.6,529.8 1017.3,529.6 1022.1,529.9 1026.8,530.5 1031.5,529.5 1036.2,530.7 1041.0,531.5 1045.7,528.6 1050.4,529.4 1055.2,529.4 1059.9,529.1 1064.6,529.2 1069.3,530.0 1074.1,528.9 1078.8,529.8 1083.5,529.1 1088.3,529.9 1093.0,529.3 1097.7,529.0 1102.5,529.2 1107.2,531.2 1111.9,530.9 1116.6,528.7 1121.4,529.0 1126.1,529.4 1130.8,529.3 1135.6,528.3 1140.3,529.7 1145.0,530.1 1149.7,529.8 1154.5,529.6 1159.2,528.9 1163.9,530.6 1168.7,530.8 1173.4,530.6 1178.1,529.9 1182.8,530.4 1187.6,529.4 1192.3,529.5 1197.0,529.7 1201.8,530.6 1206.5,530.5 1211.2,530.8 1215.9,530.6 1220.7,531.0 1225.4,530.3 1230.1,530.4 1234.9,531.3 1239.6,531.1 1244.3,532.6 1249.0,531.6 1253.8,531.1 1258.5,532.1 1263.2,531.8 1268.0,532.1 1272.7,531.8 1277.4,531.5 1282.1,531.5 1286.9,530.6 1291.6,530.8 1296.3,532.2 1301.1,531.3 1305.8,532.1 1310.5,531.5 1315.2,531.6 1320.0,531.8 1324.7,532.4 1329.4,531.9 1334.2,532.8 1338.9,532.7 1343.6,533.4 1348.3,533.5 1353.1,533.2 1357.8,533.2 1362.5,533.4 1367.3,533.2 1372.0,533.2 1376.7,532.2 1381.4,531.9 1386.2,532.1 1390.9,532.5 1395.6,533.3 1400.4,532.5 1405.1,533.6 1409.8,533.5 1414.5,532.4 1419.3,531.8 1424.0,532.3 1428.7,532.3 1433.5,533.5 1438.2,532.5 1442.9,531.8 1447.6,533.4 1452.4,533.3 1457.1,533.3 1461.8,533.4 1466.6,532.3 1471.3,532.5 1476.0,532.0 1480.8,532.2 1485.5,532.4 1490.2,531.5 1494.9,532.1 1499.7,533.0 1504.4,533.2 1509.1,533.6 1513.9,533.4 1518.6,533.1 1523.3,532.2 1528.0,531.9 1532.8,532.8 1537.5,532.7 1542.2,531.9 1547.0,533.3 1551.7,533.3 1556.4,533.0 1561.1,532.7 1565.9,532.5 1570.6,532.5 1575.3,532.7 1580.1,532.4 1584.8,532.9 1589.5,532.6 1594.2,532.8 1599.0,533.0 1603.7,533.2 1608.4,533.1 1613.2,532.3 1617.9,533.4 1622.6,532.1 1627.3,533.1 1632.1,533.7 1636.8,534.2 1641.5,533.8 1646.3,533.4 1651.0,533.6 1655.7,532.9 1660.4,533.3 1665.2,534.0 1669.9,533.7 1674.6,534.0 1679.4,534.2 1684.1,534.9 1688.8,535.0 1693.5,535.7 1698.3,535.0 1703.0,535.1 1707.7,534.7 1712.5,535.5 1717.2,535.0 1721.9,534.6 1726.6,534.7 1731.4,533.8 1736.1,534.3 1740.8,534.5 1745.6,535.6 1750.3,535.1 1755.0,534.9 1759.7,534.1 1764.5,535.3 1769.2,535.8 1773.9,537.3 1778.7,535.6 1783.4,535.4 1788.1,535.4 1792.8,534.0 1797.6,535.6 1802.3,535.7 1807.0,536.1 1811.8,536.6 1816.5,536.7 1821.2,535.6 1825.9,535.2 1830.7,536.1 1835.4,536.4 1840.1,536.1 1844.9,535.7 1849.6,535.9 1854.3,534.7 1859.1,534.8 1863.8,535.3 1868.5,534.6 1873.2,535.0 1878.0,536.6 1882.7,536.0 1887.4,536.3 1892.2,536.7 1896.9,536.1 1901.6,535.7 1906.3,536.7 1911.1,535.5 1915.8,537.1 1920.5,537.6 1925.3,536.6 1930.0,535.7 1934.7,536.2 1939.4,535.8 1944.2,535.7 1948.9,537.1 1953.6,536.9 1958.4,536.0 1963.1,536.0 1967.8,536.4 1972.5,537.1 1977.3,537.6 1982.0,536.5 1986.7,536.9 1991.5,536.5 1996.2,536.6 2000.9,537.0 2005.6,537.2 2010.4,536.4 2015.1,537.4" fill="none" stroke="#fff" stroke-opacity="0.55" stroke-width="1.5" stroke-dasharray="2.2 3.1 1.2 4.3 3.0 2.4 0.9 5.2 2.6 1.7"/>
<polyline points="124.6,541.2 127.0,541.7 129.3,542.7 131.7,543.4 134.1,543.5 136.4,544.5 138.8,544.5 141.2,545.0 143.5,544.6 145.9,545.0 148.2,545.1 150.6,545.9 153.0,546.4 155.3,546.8 157.7,547.4 160.1,547.6 162.4,548.5 164.8,548.9 167.2,548.6 169.5,548.7 171.9,548.4 174.3,548.8 176.6,549.0 179.0,550.2 181.3,550.4 183.7,551.3 186.1,552.0 188.4,552.7 190.8,551.9 193.2,551.3 195.5,551.4 197.9,552.0 200.3,553.1 202.6,553.4 205.0,554.2 207.4,553.3 209.7,553.2 212.1,552.8 214.4,553.3 216.8,553.5 219.2,553.5 221.5,553.5 223.9,553.9 226.3,554.7 228.6,554.8 231.0,554.3 233.4,553.6 235.7,554.0 238.1,554.6 240.5,555.1 242.8,555.0 245.2,555.6 247.5,555.6 249.9,555.2 252.3,554.7 254.6,554.5 257.0,555.6 259.4,556.3 261.7,556.9 264.1,556.5 266.5,556.7 268.8,556.3 271.2,556.8 273.6,556.4 275.9,556.5 278.3,556.9 280.6,557.3 283.0,557.9 285.4,557.2 287.7,557.7 290.1,557.8 292.5,558.1 294.8,559.0 297.2,560.1 299.6,560.4 301.9,559.6 304.3,558.8 306.7,558.8 309.0,559.5 311.4,559.7 313.8,560.2 316.1,559.8 318.5,560.3 320.8,560.1 323.2,560.7 325.6,561.1 327.9,562.1 330.3,560.9 332.7,561.1 335.0,560.7 337.4,562.1 339.8,562.0 342.1,562.0 344.5,561.5 346.9,561.1 349.2,560.8 351.6,561.3 353.9,561.3 356.3,560.9 358.7,560.7 361.0,560.7 363.4,562.1 365.8,562.0 368.1,562.1 370.5,561.0 372.9,562.5 375.2,562.8 377.6,563.3 380.0,562.5 382.3,562.6 384.7,562.6 387.0,562.4 389.4,562.2 391.8,562.5 394.1,562.9 396.5,563.1 398.9,563.1 401.2,563.4 403.6,564.1 406.0,563.7 408.3,564.3 410.7,563.8 413.1,564.8 415.4,564.3 417.8,564.7 420.1,564.3 422.5,564.4 424.9,564.7 427.2,564.7 429.6,563.8 432.0,563.3 434.3,563.5 436.7,564.3 439.1,564.6 441.4,564.5 443.8,564.5 446.2,564.3 448.5,564.5 450.9,564.5 453.2,564.9 455.6,565.1 458.0,565.2 460.3,564.9 462.7,564.8 465.1,565.2 467.4,565.7 469.8,565.9 472.2,566.3 474.5,565.8 476.9,565.5 479.3,565.1 481.6,565.7 484.0,565.6 486.3,565.8 488.7,564.8 491.1,565.0 493.4,565.6 495.8,566.1 498.2,566.7 500.5,566.3 502.9,566.7 505.3,566.6 507.6,566.1 510.0,566.1 512.4,566.0 514.7,566.4 517.1,567.3 519.5,567.8 521.8,567.5 524.2,566.7 526.5,565.8 528.9,566.6 531.3,566.8 533.6,567.6 536.0,567.2 538.4,567.4 540.7,567.5 543.1,567.2 545.5,567.4 547.8,567.2 550.2,566.8 552.6,566.0 554.9,566.3 557.3,567.0 559.6,567.7 562.0,567.8 564.4,567.2 566.7,567.3 569.1,567.0 571.5,567.8 573.8,567.6 576.2,567.6 578.6,566.5 580.9,566.7 583.3,566.8 585.7,568.0 588.0,568.2 590.4,568.7 592.7,568.0 595.1,567.5 597.5,566.9 599.8,567.6 602.2,567.8 604.6,568.6 606.9,567.3 609.3,567.5 611.7,567.1 614.0,567.9 616.4,567.9 618.8,568.0 621.1,568.2 623.5,568.0 625.8,567.9 628.2,567.4 630.6,567.8 632.9,567.8 635.3,568.5 637.7,567.0 640.0,567.4 642.4,567.4 644.8,568.3 647.1,567.6 649.5,567.8 651.9,568.8 654.2,569.8 656.6,569.8 658.9,569.5 661.3,569.0 663.7,568.2 666.0,567.5 668.4,567.7 670.8,568.0 673.1,568.3 675.5,567.6 677.9,567.8 680.2,568.3 682.6,568.6 685.0,568.1 687.3,568.2 689.7,567.4 692.0,567.4 694.4,567.4 696.8,568.8 699.1,569.7 701.5,569.8 703.9,569.1 706.2,569.5 708.6,568.6 711.0,567.8 713.3,567.5 715.7,569.0 718.1,570.1 720.4,569.8 722.8,568.8 725.2,568.5 727.5,568.4 729.9,569.6 732.2,569.7 734.6,569.3 737.0,568.8 739.3,568.8 741.7,569.1 744.1,568.9 746.4,569.5 748.8,569.4 751.2,569.9 753.5,568.9 755.9,569.3 758.3,568.7 760.6,569.6 763.0,569.1 765.3,569.4 767.7,568.9 770.1,569.3 772.4,569.8 774.8,569.9 777.2,569.9 779.5,569.8 781.9,569.8 784.3,570.6 786.6,569.9 789.0,569.8 791.4,569.2 793.7,568.3 796.1,568.3 798.4,568.2 800.8,569.0 803.2,569.1 805.5,569.5 807.9,569.4 810.3,569.0 812.6,569.9 815.0,570.2 817.4,570.6 819.7,570.0 822.1,569.5 824.5,569.5 826.8,568.9 829.2,569.6 831.5,569.7 833.9,569.6 836.3,569.7 838.6,569.6 841.0,570.2 843.4,570.4 845.7,570.2 848.1,569.7 850.5,569.7 852.8,570.3 855.2,569.6 857.6,569.3 859.9,569.0 862.3,569.7 864.6,570.0 867.0,569.8 869.4,569.6 871.7,569.0 874.1,568.9 876.5,568.5 878.8,568.9 881.2,569.0 883.6,569.6 885.9,569.6 888.3,569.3 890.7,569.2 893.0,569.5 895.4,569.6 897.8,570.1 900.1,569.9 902.5,569.9 904.8,569.3 907.2,569.0 909.6,568.6 911.9,568.3 914.3,568.4 916.7,569.2 919.0,569.9 921.4,569.7 923.8,569.1 926.1,568.2 928.5,568.8 930.9,568.9 933.2,569.1 935.6,567.9 937.9,568.2 940.3,568.7 942.7,570.2 945.0,570.5 947.4,570.9 949.8,570.6 952.1,570.8 954.5,570.7 956.9,570.5 959.2,570.1 961.6,569.3 964.0,569.3 966.3,569.2 968.7,569.2 971.0,569.8 973.4,570.3 975.8,571.2 978.1,571.0 980.5,570.8 982.9,570.4 985.2,569.3 987.6,568.8 990.0,568.5 992.3,569.2 994.7,569.8 997.1,569.9 999.4,569.5 1001.8,569.7 1004.1,569.5 1006.5,569.8 1008.9,569.1 1011.2,568.9 1013.6,568.2 1016.0,568.7 1018.3,569.8 1020.7,571.0 1023.1,570.8 1025.4,570.8 1027.8,570.8 1030.2,570.8 1032.5,570.6 1034.9,569.8 1037.2,569.1 1039.6,568.9 1042.0,569.3 1044.3,570.4 1046.7,570.3 1049.1,570.8 1051.4,570.7 1053.8,571.4 1056.2,570.6 1058.5,570.9 1060.9,570.7 1063.3,571.3 1065.6,570.5 1068.0,570.1 1070.3,569.9 1072.7,570.3 1075.1,570.1 1077.4,570.0 1079.8,570.3 1082.2,570.0 1084.5,570.3 1086.9,569.4 1089.3,570.7 1091.6,570.9 1094.0,571.4 1096.4,571.2 1098.7,570.4 1101.1,570.8 1103.5,570.5 1105.8,571.0 1108.2,570.3 1110.5,570.3 1112.9,570.2 1115.3,569.6 1117.6,569.7 1120.0,569.1 1122.4,570.5 1124.7,570.5 1127.1,570.7 1129.5,570.2 1131.8,570.3 1134.2,570.7 1136.6,572.1 1138.9,572.2 1141.3,572.1 1143.6,571.2 1146.0,570.5 1148.4,569.6 1150.7,569.2 1153.1,569.1 1155.5,569.6 1157.8,569.5 1160.2,569.5 1162.6,569.9 1164.9,570.3 1167.3,570.4 1169.7,569.5 1172.0,569.1 1174.4,568.8 1176.7,570.0 1179.1,570.2 1181.5,570.6 1183.8,570.2 1186.2,570.8 1188.6,571.5 1190.9,572.5 1193.3,571.9 1195.7,570.5 1198.0,569.8 1200.4,570.1 1202.8,570.8 1205.1,570.7 1207.5,570.4 1209.8,570.7 1212.2,571.1 1214.6,571.4 1216.9,571.2 1219.3,570.7 1221.7,569.9 1224.0,570.6 1226.4,570.4 1228.8,570.6 1231.1,570.0 1233.5,570.0 1235.9,569.9 1238.2,569.9 1240.6,570.0 1242.9,569.8 1245.3,569.7 1247.7,569.5 1250.0,569.5 1252.4,570.0 1254.8,569.5 1257.1,569.8 1259.5,569.5 1261.9,571.0 1264.2,571.6 1266.6,572.0 1269.0,571.6 1271.3,570.6 1273.7,570.2 1276.1,569.9 1278.4,569.8 1280.8,569.5 1283.1,569.9 1285.5,570.4 1287.9,570.9 1290.2,571.3 1292.6,570.9 1295.0,571.1 1297.3,570.9 1299.7,571.2 1302.1,571.5 1304.4,571.2 1306.8,571.5 1309.2,570.6 1311.5,571.0 1313.9,571.3 1316.2,571.3 1318.6,571.0 1321.0,570.2 1323.3,570.0 1325.7,570.7 1328.1,570.6 1330.4,570.6 1332.8,569.9 1335.2,569.9 1337.5,570.3 1339.9,570.2 1342.3,570.6 1344.6,569.4 1347.0,569.5 1349.3,569.8 1351.7,571.0 1354.1,570.4 1356.4,570.4 1358.8,571.1 1361.2,571.2 1363.5,570.7 1365.9,570.0 1368.3,570.0 1370.6,570.6 1373.0,570.8 1375.4,570.6 1377.7,570.5 1380.1,569.8 1382.4,570.2 1384.8,569.9 1387.2,570.1 1389.5,570.8 1391.9,570.9 1394.3,571.4 1396.6,570.3 1399.0,570.4 1401.4,569.6 1403.7,570.1 1406.1,571.0 1408.5,571.6 1410.8,571.2 1413.2,570.5 1415.5,570.5 1417.9,570.2 1420.3,570.2 1422.6,569.7 1425.0,570.3 1427.4,570.7 1429.7,571.6 1432.1,571.7 1434.5,571.0 1436.8,571.0 1439.2,571.3 1441.6,571.8 1443.9,571.6 1446.3,571.5 1448.6,571.3 1451.0,570.4 1453.4,570.0 1455.7,570.1 1458.1,570.7 1460.5,570.0 1462.8,569.4 1465.2,569.5 1467.6,570.6 1469.9,571.6 1472.3,571.6 1474.7,571.1 1477.0,571.1 1479.4,571.4 1481.8,571.4 1484.1,571.7 1486.5,571.8 1488.8,571.9 1491.2,571.0 1493.6,570.3 1495.9,569.9 1498.3,569.6 1500.7,569.3 1503.0,569.7 1505.4,569.4 1507.8,569.1 1510.1,568.8 1512.5,569.9 1514.9,570.4 1517.2,571.7 1519.6,571.8 1521.9,572.8 1524.3,572.3 1526.7,571.6 1529.0,570.9 1531.4,570.1 1533.8,570.5 1536.1,570.6 1538.5,571.2 1540.9,571.0 1543.2,571.0 1545.6,570.5 1548.0,570.1 1550.3,569.9 1552.7,570.8 1555.0,571.3 1557.4,570.9 1559.8,570.3 1562.1,570.4 1564.5,570.8 1566.9,570.4 1569.2,571.4 1571.6,571.2 1574.0,571.4 1576.3,570.1 1578.7,570.9 1581.1,571.1 1583.4,571.1 1585.8,571.4 1588.1,571.2 1590.5,571.4 1592.9,570.3 1595.2,570.3 1597.6,570.4 1600.0,570.9 1602.3,570.9 1604.7,570.8 1607.1,570.6 1609.4,571.1 1611.8,571.4 1614.2,571.9 1616.5,572.0 1618.9,571.8 1621.2,571.3 1623.6,571.4 1626.0,571.6 1628.3,571.4 1630.7,570.8 1633.1,570.4 1635.4,571.1 1637.8,571.3 1640.2,571.3 1642.5,570.3 1644.9,569.8 1647.3,570.1 1649.6,570.7 1652.0,570.6 1654.4,569.7 1656.7,570.4 1659.1,570.7 1661.4,570.2 1663.8,570.2 1666.2,570.2 1668.5,571.4 1670.9,571.5 1673.3,571.9 1675.6,571.4 1678.0,570.5 1680.4,570.8 1682.7,571.3 1685.1,572.1 1687.5,572.6 1689.8,572.1 1692.2,571.4 1694.5,570.2 1696.9,570.7 1699.3,570.8 1701.6,571.0 1704.0,571.0 1706.4,571.5 1708.7,572.0 1711.1,571.8 1713.5,571.0 1715.8,571.3 1718.2,571.9 1720.6,572.1 1722.9,571.6 1725.3,571.8 1727.6,572.5 1730.0,572.8 1732.4,572.3 1734.7,572.0 1737.1,571.3 1739.5,571.1 1741.8,571.0 1744.2,571.8 1746.6,571.6 1748.9,571.0 1751.3,570.7 1753.7,571.2 1756.0,571.0 1758.4,570.6 1760.7,570.7 1763.1,571.8 1765.5,572.2 1767.8,571.3 1770.2,571.0 1772.6,570.9 1774.9,571.4 1777.3,570.9 1779.7,570.3 1782.0,570.6 1784.4,570.9 1786.8,571.3 1789.1,571.1 1791.5,571.3 1793.8,570.9 1796.2,570.7 1798.6,570.1 1800.9,569.7 1803.3,569.8 1805.7,569.8 1808.0,570.4 1810.4,570.4 1812.8,570.6 1815.1,570.4 1817.5,570.9 1819.9,570.7 1822.2,570.5 1824.6,570.4 1826.9,571.8 1829.3,571.9 1831.7,571.3 1834.0,570.3 1836.4,570.0 1838.8,570.5 1841.1,570.6 1843.5,571.7 1845.9,571.5 1848.2,571.3 1850.6,571.1 1853.0,571.3 1855.3,571.6 1857.7,571.4 1860.1,570.8 1862.4,571.5 1864.8,571.0 1867.1,571.9 1869.5,571.8 1871.9,572.6 1874.2,572.3 1876.6,572.3 1879.0,571.8 1881.3,571.9 1883.7,571.0 1886.1,571.1 1888.4,571.1 1890.8,571.8 1893.2,571.8 1895.5,571.6 1897.9,572.2 1900.2,572.8 1902.6,572.6 1905.0,572.0 1907.3,571.6 1909.7,571.6 1912.1,571.5 1914.4,571.9 1916.8,571.8 1919.2,571.4 1921.5,571.0 1923.9,570.6 1926.3,571.2 1928.6,571.5 1931.0,572.3 1933.3,571.7 1935.7,571.9 1938.1,571.8 1940.4,572.2 1942.8,571.8 1945.2,572.0 1947.5,572.4 1949.9,572.1 1952.3,571.3 1954.6,570.7 1957.0,571.6 1959.4,571.1 1961.7,570.6 1964.1,569.8 1966.4,570.7 1968.8,571.0 1971.2,570.8 1973.5,570.8 1975.9,571.1 1978.3,571.6 1980.6,571.3 1983.0,571.2 1985.4,571.2 1987.7,571.9 1990.1,572.4 1992.5,572.3 1994.8,571.4 1997.2,570.6 1999.5,570.5 2001.9,571.3 2004.3,571.6 2006.6,571.9 2009.0,571.9 2011.4,571.5 2013.7,572.1 2016.1,572.3" fill="none" stroke="#ed1f24" stroke-width="3" stroke-linejoin="round" marker-start="url(#mRd)" marker-mid="url(#mRd)" marker-end="url(#mRd)"/>
<polyline points="123.6,537.8 128.3,539.3 133.1,540.1 137.8,541.1 142.5,541.2 147.2,541.7 152.0,543.0 156.7,544.0 161.4,545.1 166.2,545.2 170.9,545.0 175.6,545.6 180.3,547.0 185.1,548.6 189.8,548.5 194.5,548.0 199.3,549.7 204.0,550.8 208.7,549.8 213.4,549.9 218.2,550.1 222.9,550.5 227.6,551.4 232.4,550.2 237.1,551.2 241.8,551.6 246.5,552.2 251.3,551.3 256.0,552.2 260.7,553.5 265.5,553.3 270.2,553.4 274.9,553.1 279.6,553.9 284.4,553.8 289.1,554.4 293.8,555.6 298.6,557.0 303.3,555.4 308.0,556.1 312.8,556.8 317.5,556.9 322.2,557.3 326.9,558.7 331.7,557.7 336.4,558.7 341.1,558.6 345.9,557.7 350.6,557.9 355.3,557.5 360.0,557.3 364.8,558.6 369.5,557.6 374.2,559.4 379.0,559.1 383.7,559.2 388.4,558.8 393.1,559.5 397.9,559.7 402.6,560.7 407.3,560.9 412.1,561.4 416.8,561.3 421.5,561.0 426.2,561.3 431.0,559.9 435.7,560.9 440.4,561.1 445.2,560.9 449.9,561.1 454.6,561.7 459.3,561.5 464.1,561.8 468.8,562.5 473.5,562.4 478.3,561.7 483.0,562.2 487.7,561.4 492.4,562.2 497.2,563.3 501.9,563.3 506.6,562.7 511.4,562.6 516.1,563.9 520.8,564.1 525.5,562.4 530.3,563.4 535.0,563.8 539.7,564.1 544.5,564.0 549.2,563.4 553.9,562.9 558.6,564.3 563.4,563.8 568.1,563.6 572.8,564.2 577.6,563.1 582.3,563.4 587.0,564.8 591.7,564.6 596.5,563.5 601.2,564.4 605.9,563.9 610.7,563.7 615.4,564.5 620.1,564.8 624.8,564.5 629.6,564.4 634.3,565.1 639.0,564.0 643.8,564.9 648.5,564.4 653.2,566.4 657.9,566.1 662.7,564.8 667.4,564.3 672.1,564.9 676.9,564.4 681.6,565.2 686.3,564.8 691.0,564.0 695.8,565.4 700.5,566.4 705.2,566.1 710.0,564.4 714.7,565.6 719.4,566.4 724.2,565.1 728.9,566.2 733.6,565.9 738.3,565.4 743.1,565.5 747.8,566.0 752.5,565.5 757.3,565.3 762.0,565.7 766.7,565.5 771.4,566.4 776.2,566.5 780.9,566.4 785.6,566.5 790.4,565.8 795.1,564.9 799.8,565.6 804.5,566.1 809.3,565.6 814.0,566.8 818.7,566.6 823.5,566.1 828.2,566.2 832.9,566.2 837.6,566.2 842.4,567.0 847.1,566.3 851.8,566.9 856.6,565.9 861.3,566.3 866.0,566.4 870.7,565.6 875.5,565.1 880.2,565.6 884.9,566.2 889.7,565.8 894.4,566.2 899.1,566.5 903.8,565.9 908.6,565.2 913.3,565.0 918.0,566.5 922.8,565.7 927.5,565.4 932.2,565.7 936.9,564.8 941.7,566.8 946.4,567.5 951.1,567.4 955.9,567.1 960.6,565.9 965.3,565.8 970.0,566.4 974.8,567.8 979.5,567.4 984.2,565.9 989.0,565.1 993.7,566.4 998.4,566.1 1003.1,566.1 1007.9,565.7 1012.6,564.8 1017.3,566.4 1022.1,567.4 1026.8,567.4 1031.5,567.2 1036.2,565.7 1041.0,565.9 1045.7,566.9 1050.4,567.3 1055.2,567.2 1059.9,567.3 1064.6,567.1 1069.3,566.5 1074.1,566.7 1078.8,566.9 1083.5,566.9 1088.3,567.3 1093.0,568.0 1097.7,567.0 1102.5,567.1 1107.2,566.9 1111.9,566.8 1116.6,566.3 1121.4,567.1 1126.1,567.3 1130.8,566.9 1135.6,568.7 1140.3,568.7 1145.0,567.1 1149.7,565.8 1154.5,566.2 1159.2,566.1 1163.9,566.9 1168.7,566.1 1173.4,565.4 1178.1,566.8 1182.8,566.8 1187.6,568.1 1192.3,568.5 1197.0,566.4 1201.8,567.4 1206.5,567.0 1211.2,567.7 1215.9,567.8 1220.7,566.5 1225.4,567.0 1230.1,566.6 1234.9,566.5 1239.6,566.6 1244.3,566.3 1249.0,566.1 1253.8,566.1 1258.5,566.1 1263.2,568.2 1268.0,568.2 1272.7,566.8 1277.4,566.4 1282.1,566.5 1286.9,567.5 1291.6,567.5 1296.3,567.5 1301.1,568.1 1305.8,568.1 1310.5,567.6 1315.2,567.9 1320.0,566.8 1324.7,567.3 1329.4,567.2 1334.2,566.5 1338.9,566.8 1343.6,566.0 1348.3,566.4 1353.1,567.0 1357.8,567.7 1362.5,567.3 1367.3,566.6 1372.0,567.4 1376.7,567.1 1381.4,566.8 1386.2,566.7 1390.9,567.5 1395.6,566.9 1400.4,566.2 1405.1,567.6 1409.8,567.8 1414.5,567.1 1419.3,566.8 1424.0,566.9 1428.7,568.2 1433.5,567.6 1438.2,567.9 1442.9,568.2 1447.6,567.9 1452.4,566.6 1457.1,567.3 1461.8,566.0 1466.6,567.2 1471.3,568.2 1476.0,567.7 1480.8,568.0 1485.5,568.4 1490.2,567.6 1494.9,566.5 1499.7,565.9 1504.4,566.0 1509.1,565.4 1513.9,567.0 1518.6,568.4 1523.3,568.9 1528.0,567.5 1532.8,567.1 1537.5,567.8 1542.2,567.6 1547.0,566.7 1551.7,567.4 1556.4,567.5 1561.1,567.0 1565.9,567.0 1570.6,567.8 1575.3,566.7 1580.1,567.7 1584.8,568.0 1589.5,568.0 1594.2,566.9 1599.0,567.5 1603.7,567.4 1608.4,567.7 1613.2,568.5 1617.9,568.4 1622.6,568.0 1627.3,568.0 1632.1,567.0 1636.8,567.9 1641.5,566.9 1646.3,566.7 1651.0,567.2 1655.7,567.0 1660.4,566.8 1665.2,566.8 1669.9,568.1 1674.6,568.0 1679.4,567.4 1684.1,568.7 1688.8,568.7 1693.5,566.8 1698.3,567.4 1703.0,567.6 1707.7,568.6 1712.5,567.6 1717.2,568.5 1721.9,568.2 1726.6,569.1 1731.4,568.9 1736.1,567.9 1740.8,567.6 1745.6,568.2 1750.3,567.3 1755.0,567.6 1759.7,567.3 1764.5,568.8 1769.2,567.6 1773.9,568.0 1778.7,566.9 1783.4,567.5 1788.1,567.7 1792.8,567.5 1797.6,566.7 1802.3,566.4 1807.0,567.0 1811.8,567.2 1816.5,567.5 1821.2,567.1 1825.9,568.4 1830.7,567.9 1835.4,566.6 1840.1,567.2 1844.9,568.1 1849.6,567.7 1854.3,568.2 1859.1,567.4 1863.8,567.6 1868.5,568.4 1873.2,568.9 1878.0,568.4 1882.7,567.6 1887.4,567.7 1892.2,568.4 1896.9,568.8 1901.6,569.2 1906.3,568.2 1911.1,568.1 1915.8,568.4 1920.5,567.6 1925.3,567.8 1930.0,568.9 1934.7,568.5 1939.4,568.8 1944.2,568.6 1948.9,568.7 1953.6,567.3 1958.4,567.7 1963.1,566.4 1967.8,567.6 1972.5,567.4 1977.3,568.2 1982.0,567.8 1986.7,568.5 1991.5,568.9 1996.2,567.2 2000.9,567.9 2005.6,568.5 2010.4,568.1 2015.1,568.9" fill="none" stroke="#fff" stroke-opacity="0.55" stroke-width="1.5" stroke-dasharray="2.2 3.1 1.2 4.3 3.0 2.4 0.9 5.2 2.6 1.7"/>
<polyline points="124.6,551.2 127.0,552.7 129.3,553.9 131.7,554.8 134.1,555.8 136.4,557.0 138.8,557.5 141.2,558.2 143.5,558.6 145.9,559.7 148.2,560.7 150.6,561.4 153.0,562.0 155.3,563.6 157.7,564.1 160.1,564.8 162.4,564.9 164.8,566.5 167.2,566.4 169.5,567.1 171.9,567.3 174.3,567.8 176.6,568.4 179.0,569.6 181.3,571.2 183.7,572.6 186.1,572.2 188.4,572.8 190.8,572.8 193.2,573.6 195.5,574.7 197.9,574.8 200.3,576.5 202.6,576.7 205.0,577.8 207.4,577.1 209.7,576.8 212.1,577.1 214.4,577.8 216.8,579.3 219.2,579.6 221.5,580.9 223.9,582.1 226.3,583.7 228.6,583.7 231.0,582.9 233.4,582.8 235.7,583.7 238.1,584.4 240.5,585.1 242.8,585.2 245.2,586.3 247.5,587.0 249.9,587.5 252.3,588.6 254.6,588.7 257.0,589.2 259.4,588.7 261.7,589.4 264.1,590.7 266.5,591.7 268.8,591.5 271.2,591.4 273.6,592.0 275.9,593.5 278.3,594.1 280.6,594.3 283.0,594.7 285.4,594.1 287.7,594.3 290.1,594.2 292.5,594.7 294.8,594.1 297.2,594.6 299.6,595.5 301.9,596.3 304.3,596.6 306.7,597.6 309.0,598.1 311.4,598.0 313.8,597.5 316.1,598.7 318.5,599.5 320.8,600.0 323.2,599.9 325.6,599.6 327.9,599.0 330.3,599.0 332.7,599.5 335.0,600.2 337.4,600.9 339.8,601.4 342.1,602.2 344.5,602.5 346.9,601.6 349.2,601.1 351.6,601.8 353.9,603.1 356.3,604.1 358.7,604.1 361.0,604.0 363.4,604.5 365.8,604.8 368.1,605.4 370.5,604.6 372.9,604.8 375.2,604.3 377.6,605.2 380.0,605.6 382.3,606.5 384.7,606.3 387.0,606.2 389.4,607.0 391.8,607.4 394.1,607.7 396.5,607.5 398.9,608.0 401.2,607.5 403.6,607.8 406.0,608.2 408.3,608.8 410.7,608.9 413.1,608.7 415.4,608.6 417.8,608.8 420.1,608.9 422.5,608.9 424.9,609.2 427.2,609.8 429.6,610.4 432.0,610.8 434.3,610.7 436.7,611.3 439.1,611.9 441.4,612.0 443.8,612.1 446.2,612.3 448.5,612.3 450.9,612.3 453.2,611.6 455.6,612.3 458.0,612.6 460.3,613.5 462.7,613.7 465.1,613.6 467.4,613.4 469.8,613.6 472.2,614.3 474.5,614.1 476.9,614.8 479.3,614.6 481.6,614.4 484.0,613.3 486.3,612.7 488.7,613.8 491.1,614.1 493.4,614.4 495.8,613.6 498.2,614.2 500.5,614.6 502.9,614.3 505.3,614.7 507.6,614.9 510.0,615.4 512.4,615.2 514.7,615.2 517.1,616.1 519.5,616.2 521.8,616.8 524.2,616.4 526.5,616.2 528.9,615.7 531.3,616.3 533.6,616.3 536.0,616.5 538.4,616.0 540.7,616.6 543.1,616.9 545.5,617.2 547.8,616.7 550.2,617.0 552.6,616.5 554.9,616.9 557.3,618.0 559.6,619.3 562.0,619.2 564.4,618.7 566.7,617.8 569.1,618.0 571.5,618.3 573.8,618.7 576.2,619.0 578.6,619.5 580.9,619.4 583.3,620.0 585.7,618.9 588.0,619.4 590.4,618.8 592.7,619.6 595.1,619.8 597.5,620.5 599.8,620.4 602.2,621.1 604.6,620.1 606.9,619.4 609.3,619.0 611.7,619.5 614.0,619.5 616.4,620.2 618.8,620.2 621.1,620.0 623.5,619.6 625.8,619.5 628.2,620.2 630.6,620.3 632.9,620.7 635.3,620.7 637.7,620.3 640.0,620.3 642.4,619.6 644.8,620.1 647.1,620.4 649.5,621.7 651.9,621.7 654.2,621.4 656.6,621.5 658.9,621.6 661.3,621.7 663.7,621.7 666.0,622.0 668.4,622.0 670.8,622.2 673.1,622.0 675.5,622.1 677.9,621.6 680.2,621.9 682.6,622.6 685.0,623.0 687.3,622.8 689.7,623.2 692.0,623.1 694.4,622.9 696.8,621.8 699.1,622.7 701.5,622.2 703.9,622.7 706.2,622.3 708.6,623.1 711.0,623.1 713.3,623.3 715.7,622.8 718.1,622.9 720.4,622.8 722.8,622.5 725.2,623.0 727.5,623.4 729.9,623.9 732.2,623.6 734.6,622.8 737.0,622.6 739.3,623.6 741.7,624.0 744.1,623.7 746.4,623.1 748.8,623.2 751.2,623.8 753.5,623.9 755.9,623.5 758.3,623.5 760.6,622.8 763.0,622.9 765.3,623.2 767.7,623.4 770.1,622.9 772.4,623.2 774.8,623.5 777.2,624.9 779.5,624.2 781.9,624.2 784.3,624.0 786.6,625.0 789.0,624.8 791.4,623.7 793.7,623.0 796.1,622.5 798.4,623.2 800.8,623.8 803.2,623.7 805.5,623.3 807.9,622.8 810.3,622.7 812.6,623.4 815.0,623.6 817.4,623.6 819.7,622.7 822.1,622.7 824.5,622.6 826.8,623.8 829.2,623.5 831.5,624.2 833.9,624.4 836.3,624.5 838.6,624.1 841.0,623.5 843.4,623.5 845.7,623.5 848.1,623.9 850.5,624.6 852.8,625.4 855.2,625.4 857.6,624.2 859.9,623.9 862.3,623.7 864.6,624.5 867.0,623.6 869.4,623.4 871.7,623.6 874.1,624.6 876.5,623.9 878.8,623.5 881.2,624.0 883.6,624.6 885.9,624.5 888.3,624.1 890.7,624.3 893.0,624.1 895.4,623.8 897.8,623.2 900.1,624.1 902.5,624.4 904.8,624.7 907.2,625.1 909.6,625.2 911.9,625.6 914.3,625.0 916.7,625.6 919.0,625.1 921.4,625.4 923.8,624.2 926.1,624.6 928.5,625.0 930.9,626.0 933.2,626.3 935.6,625.9 937.9,625.6 940.3,624.9 942.7,624.2 945.0,624.5 947.4,623.9 949.8,623.6 952.1,623.5 954.5,625.4 956.9,625.9 959.2,625.7 961.6,625.5 964.0,625.2 966.3,625.0 968.7,624.6 971.0,624.3 973.4,623.8 975.8,623.7 978.1,623.8 980.5,624.5 982.9,624.6 985.2,624.5 987.6,624.1 990.0,623.8 992.3,624.9 994.7,624.5 997.1,624.9 999.4,623.9 1001.8,623.3 1004.1,622.5 1006.5,623.2 1008.9,624.3 1011.2,624.0 1013.6,623.5 1016.0,622.7 1018.3,622.8 1020.7,622.9 1023.1,623.3 1025.4,623.7 1027.8,624.9 1030.2,625.4 1032.5,624.8 1034.9,623.7 1037.2,622.7 1039.6,622.6 1042.0,622.5 1044.3,622.3 1046.7,622.7 1049.1,622.8 1051.4,623.7 1053.8,622.8 1056.2,622.5 1058.5,621.9 1060.9,621.7 1063.3,621.2 1065.6,621.3 1068.0,621.5 1070.3,622.4 1072.7,622.1 1075.1,622.3 1077.4,622.2 1079.8,621.8 1082.2,622.1 1084.5,621.3 1086.9,621.9 1089.3,621.0 1091.6,620.7 1094.0,621.1 1096.4,622.0 1098.7,622.4 1101.1,621.6 1103.5,621.0 1105.8,621.1 1108.2,621.2 1110.5,622.2 1112.9,622.2 1115.3,622.9 1117.6,621.7 1120.0,621.7 1122.4,621.5 1124.7,621.7 1127.1,622.0 1129.5,621.7 1131.8,621.8 1134.2,621.4 1136.6,621.8 1138.9,621.2 1141.3,621.1 1143.6,620.7 1146.0,621.1 1148.4,621.4 1150.7,621.1 1153.1,621.3 1155.5,621.0 1157.8,621.5 1160.2,621.8 1162.6,621.7 1164.9,620.8 1167.3,621.0 1169.7,621.2 1172.0,622.4 1174.4,621.8 1176.7,621.8 1179.1,621.6 1181.5,623.1 1183.8,623.5 1186.2,624.3 1188.6,623.5 1190.9,623.6 1193.3,623.3 1195.7,623.1 1198.0,622.0 1200.4,622.8 1202.8,623.2 1205.1,624.1 1207.5,623.3 1209.8,623.5 1212.2,624.3 1214.6,624.6 1216.9,624.4 1219.3,623.7 1221.7,623.3 1224.0,624.1 1226.4,624.5 1228.8,624.5 1231.1,623.9 1233.5,623.9 1235.9,624.0 1238.2,624.4 1240.6,624.8 1242.9,624.4 1245.3,624.0 1247.7,624.1 1250.0,624.4 1252.4,625.4 1254.8,624.7 1257.1,624.6 1259.5,624.4 1261.9,624.3 1264.2,624.8 1266.6,625.0 1269.0,625.5 1271.3,625.5 1273.7,625.2 1276.1,625.0 1278.4,625.1 1280.8,624.7 1283.1,624.4 1285.5,624.6 1287.9,625.6 1290.2,625.9 1292.6,625.2 1295.0,624.5 1297.3,625.7 1299.7,626.0 1302.1,625.5 1304.4,625.7 1306.8,625.7 1309.2,626.5 1311.5,626.2 1313.9,626.1 1316.2,626.4 1318.6,625.9 1321.0,625.7 1323.3,625.1 1325.7,625.5 1328.1,626.8 1330.4,627.5 1332.8,628.0 1335.2,626.8 1337.5,626.2 1339.9,626.0 1342.3,627.0 1344.6,627.3 1347.0,626.9 1349.3,626.8 1351.7,625.8 1354.1,625.9 1356.4,625.8 1358.8,626.1 1361.2,625.4 1363.5,624.7 1365.9,624.9 1368.3,625.3 1370.6,625.9 1373.0,625.5 1375.4,625.7 1377.7,626.1 1380.1,626.8 1382.4,627.1 1384.8,627.2 1387.2,626.1 1389.5,626.1 1391.9,626.1 1394.3,626.9 1396.6,627.1 1399.0,626.9 1401.4,626.4 1403.7,626.8 1406.1,627.6 1408.5,627.9 1410.8,627.4 1413.2,626.6 1415.5,626.7 1417.9,626.7 1420.3,626.4 1422.6,626.9 1425.0,626.8 1427.4,627.6 1429.7,627.8 1432.1,627.6 1434.5,627.1 1436.8,627.5 1439.2,628.1 1441.6,628.2 1443.9,627.3 1446.3,627.0 1448.6,627.0 1451.0,627.8 1453.4,626.7 1455.7,626.5 1458.1,625.6 1460.5,626.5 1462.8,626.1 1465.2,626.2 1467.6,626.5 1469.9,626.7 1472.3,627.0 1474.7,626.4 1477.0,626.8 1479.4,627.0 1481.8,627.2 1484.1,626.5 1486.5,626.1 1488.8,626.7 1491.2,626.9 1493.6,627.0 1495.9,625.9 1498.3,625.4 1500.7,624.6 1503.0,625.1 1505.4,625.7 1507.8,625.7 1510.1,625.3 1512.5,624.8 1514.9,625.3 1517.2,625.5 1519.6,626.1 1521.9,625.7 1524.3,626.3 1526.7,626.4 1529.0,626.3 1531.4,625.9 1533.8,624.7 1536.1,625.1 1538.5,625.2 1540.9,626.3 1543.2,627.1 1545.6,627.7 1548.0,627.2 1550.3,626.9 1552.7,625.6 1555.0,625.5 1557.4,625.1 1559.8,625.1 1562.1,625.5 1564.5,624.9 1566.9,625.5 1569.2,625.4 1571.6,626.2 1574.0,626.0 1576.3,626.7 1578.7,626.4 1581.1,626.4 1583.4,626.3 1585.8,626.3 1588.1,626.2 1590.5,626.1 1592.9,626.6 1595.2,626.7 1597.6,626.5 1600.0,626.2 1602.3,626.4 1604.7,627.2 1607.1,626.6 1609.4,627.1 1611.8,626.3 1614.2,626.3 1616.5,626.1 1618.9,625.9 1621.2,626.7 1623.6,626.8 1626.0,627.4 1628.3,627.0 1630.7,626.0 1633.1,625.3 1635.4,625.0 1637.8,625.9 1640.2,626.2 1642.5,626.7 1644.9,626.1 1647.3,625.7 1649.6,625.6 1652.0,625.6 1654.4,625.8 1656.7,625.8 1659.1,625.5 1661.4,625.6 1663.8,625.4 1666.2,625.3 1668.5,625.2 1670.9,625.2 1673.3,626.1 1675.6,625.7 1678.0,626.9 1680.4,627.3 1682.7,628.5 1685.1,627.0 1687.5,626.6 1689.8,626.1 1692.2,627.2 1694.5,627.2 1696.9,627.1 1699.3,626.8 1701.6,627.6 1704.0,628.1 1706.4,627.6 1708.7,626.9 1711.1,626.3 1713.5,626.5 1715.8,627.3 1718.2,627.4 1720.6,628.0 1722.9,627.3 1725.3,626.9 1727.6,626.8 1730.0,627.3 1732.4,627.0 1734.7,626.6 1737.1,626.4 1739.5,627.9 1741.8,628.2 1744.2,627.7 1746.6,626.3 1748.9,626.7 1751.3,627.1 1753.7,627.7 1756.0,627.4 1758.4,627.6 1760.7,627.4 1763.1,628.2 1765.5,627.8 1767.8,628.7 1770.2,628.1 1772.6,628.3 1774.9,627.9 1777.3,627.7 1779.7,627.0 1782.0,627.6 1784.4,627.4 1786.8,627.6 1789.1,627.0 1791.5,626.9 1793.8,627.0 1796.2,626.5 1798.6,627.2 1800.9,627.6 1803.3,627.5 1805.7,626.3 1808.0,625.9 1810.4,626.1 1812.8,627.0 1815.1,627.8 1817.5,628.1 1819.9,627.2 1822.2,627.4 1824.6,627.4 1826.9,628.7 1829.3,628.0 1831.7,627.3 1834.0,627.1 1836.4,627.4 1838.8,627.3 1841.1,626.8 1843.5,627.0 1845.9,628.2 1848.2,629.0 1850.6,628.3 1853.0,628.1 1855.3,627.0 1857.7,627.0 1860.1,627.0 1862.4,627.6 1864.8,627.4 1867.1,627.0 1869.5,626.6 1871.9,627.4 1874.2,627.1 1876.6,627.6 1879.0,627.8 1881.3,628.5 1883.7,627.8 1886.1,626.2 1888.4,626.2 1890.8,626.8 1893.2,626.8 1895.5,626.5 1897.9,626.1 1900.2,627.4 1902.6,627.5 1905.0,627.0 1907.3,626.8 1909.7,626.5 1912.1,627.3 1914.4,626.2 1916.8,626.3 1919.2,625.7 1921.5,626.4 1923.9,626.0 1926.3,626.5 1928.6,626.6 1931.0,626.0 1933.3,625.8 1935.7,626.4 1938.1,627.5 1940.4,627.7 1942.8,627.4 1945.2,627.1 1947.5,627.2 1949.9,627.6 1952.3,627.3 1954.6,627.2 1957.0,626.7 1959.4,626.9 1961.7,626.5 1964.1,626.4 1966.4,626.5 1968.8,626.3 1971.2,626.8 1973.5,626.7 1975.9,627.8 1978.3,627.6 1980.6,627.8 1983.0,627.4 1985.4,627.2 1987.7,627.1 1990.1,626.6 1992.5,626.6 1994.8,626.4 1997.2,626.7 1999.5,627.2 2001.9,626.7 2004.3,626.6 2006.6,626.6 2009.0,626.7 2011.4,626.8 2013.7,626.8 2016.1,627.7" fill="none" stroke="#3146a6" stroke-width="3" stroke-linejoin="round" marker-start="url(#mBd)" marker-mid="url(#mBd)" marker-end="url(#mBd)"/>
<polyline points="123.6,547.8 128.3,550.5 133.1,552.4 137.8,554.1 142.5,555.2 147.2,557.3 152.0,558.6 156.7,560.7 161.4,561.5 166.2,563.0 170.9,563.9 175.6,565.0 180.3,567.8 185.1,568.8 189.8,569.4 194.5,571.3 199.3,573.1 204.0,574.4 208.7,573.4 213.4,574.4 218.2,576.2 222.9,578.7 227.6,580.3 232.4,579.4 237.1,581.0 241.8,581.8 246.5,583.6 251.3,585.2 256.0,585.8 260.7,586.0 265.5,588.3 270.2,588.0 274.9,590.1 279.6,590.9 284.4,590.7 289.1,590.8 293.8,590.7 298.6,592.1 303.3,593.2 308.0,594.7 312.8,594.1 317.5,596.1 322.2,596.5 326.9,595.6 331.7,596.1 336.4,597.5 341.1,598.8 345.9,598.2 350.6,598.4 355.3,600.7 360.0,600.6 364.8,601.4 369.5,601.2 374.2,600.9 379.0,602.2 383.7,602.9 388.4,603.6 393.1,604.3 397.9,604.6 402.6,604.4 407.3,605.4 412.1,605.3 416.8,605.4 421.5,605.5 426.2,606.4 431.0,607.4 435.7,607.9 440.4,608.6 445.2,608.9 449.9,608.9 454.6,608.9 459.3,610.1 464.1,610.2 468.8,610.2 473.5,610.7 478.3,611.2 483.0,609.9 487.7,610.4 492.4,611.0 497.2,610.8 501.9,610.9 506.6,611.5 511.4,611.8 516.1,612.7 520.8,613.4 525.5,612.8 530.3,612.9 535.0,613.1 539.7,613.2 544.5,613.8 549.2,613.6 553.9,613.5 558.6,615.9 563.4,615.3 568.1,614.6 572.8,615.3 577.6,616.1 582.3,616.6 587.0,616.0 591.7,616.2 596.5,617.1 601.2,617.7 605.9,616.0 610.7,616.1 615.4,616.8 620.1,616.6 624.8,616.1 629.6,616.9 634.3,617.3 639.0,616.9 643.8,616.7 648.5,618.3 653.2,618.0 657.9,618.2 662.7,618.3 667.4,618.6 672.1,618.6 676.9,618.2 681.6,619.2 686.3,619.4 691.0,619.7 695.8,618.4 700.5,618.8 705.2,618.9 710.0,619.7 714.7,619.4 719.4,619.4 724.2,619.6 728.9,620.5 733.6,619.4 738.3,620.2 743.1,620.3 747.8,619.8 752.5,620.5 757.3,620.1 762.0,619.5 766.7,620.0 771.4,619.8 776.2,621.5 780.9,620.8 785.6,621.6 790.4,620.3 795.1,619.1 799.8,620.4 804.5,619.9 809.3,619.3 814.0,620.2 818.7,619.3 823.5,619.2 828.2,620.1 832.9,621.0 837.6,620.7 842.4,620.1 847.1,620.5 851.8,622.0 856.6,620.8 861.3,620.3 866.0,620.2 870.7,620.2 875.5,620.5 880.2,620.6 884.9,621.1 889.7,620.9 894.4,620.4 899.1,620.7 903.8,621.3 908.6,621.8 913.3,621.6 918.0,621.7 922.8,620.8 927.5,621.6 932.2,622.9 936.9,622.2 941.7,620.8 946.4,620.5 951.1,620.1 955.9,622.5 960.6,622.1 965.3,621.6 970.0,620.9 974.8,620.3 979.5,621.1 984.2,621.1 989.0,620.4 993.7,621.1 998.4,620.5 1003.1,619.1 1007.9,620.9 1012.6,620.1 1017.3,619.4 1022.1,619.9 1026.8,621.5 1031.5,621.4 1036.2,619.3 1041.0,619.1 1045.7,619.3 1050.4,620.3 1055.2,619.1 1059.9,618.3 1064.6,617.9 1069.3,619.0 1074.1,618.9 1078.8,618.4 1083.5,617.9 1088.3,617.6 1093.0,617.7 1097.7,619.0 1102.5,617.6 1107.2,617.8 1111.9,618.8 1116.6,618.3 1121.4,618.1 1126.1,618.6 1130.8,618.4 1135.6,618.4 1140.3,617.7 1145.0,617.7 1149.7,617.7 1154.5,617.6 1159.2,618.4 1163.9,617.4 1168.7,617.8 1173.4,618.4 1178.1,618.2 1182.8,620.1 1187.6,620.1 1192.3,619.9 1197.0,618.6 1201.8,619.8 1206.5,619.9 1211.2,620.9 1215.9,621.0 1220.7,619.9 1225.4,621.1 1230.1,620.5 1234.9,620.6 1239.6,621.4 1244.3,620.6 1249.0,621.0 1253.8,621.3 1258.5,621.0 1263.2,621.4 1268.0,622.1 1272.7,621.8 1277.4,621.7 1282.1,621.0 1286.9,622.2 1291.6,621.8 1296.3,622.3 1301.1,622.1 1305.8,622.3 1310.5,622.8 1315.2,623.0 1320.0,622.3 1324.7,622.1 1329.4,624.1 1334.2,623.4 1338.9,622.6 1343.6,623.9 1348.3,623.4 1353.1,622.5 1357.8,622.7 1362.5,621.3 1367.3,621.9 1372.0,622.1 1376.7,622.7 1381.4,623.7 1386.2,622.7 1390.9,622.7 1395.6,623.7 1400.4,623.0 1405.1,624.2 1409.8,624.0 1414.5,623.3 1419.3,623.0 1424.0,623.4 1428.7,624.4 1433.5,623.7 1438.2,624.7 1442.9,623.9 1447.6,623.6 1452.4,623.3 1457.1,622.2 1461.8,622.7 1466.6,623.1 1471.3,623.6 1476.0,623.4 1480.8,623.8 1485.5,622.7 1490.2,623.5 1494.9,622.5 1499.7,621.2 1504.4,622.3 1509.1,621.9 1513.9,621.9 1518.6,622.7 1523.3,622.9 1528.0,622.9 1532.8,621.3 1537.5,621.8 1542.2,623.7 1547.0,623.8 1551.7,622.2 1556.4,621.7 1561.1,622.1 1565.9,622.1 1570.6,622.8 1575.3,623.3 1580.1,623.0 1584.8,622.9 1589.5,622.7 1594.2,623.3 1599.0,622.8 1603.7,623.8 1608.4,623.7 1613.2,622.9 1617.9,622.5 1622.6,623.4 1627.3,623.6 1632.1,621.9 1636.8,622.5 1641.5,623.3 1646.3,622.3 1651.0,622.2 1655.7,622.4 1660.4,622.2 1665.2,621.9 1669.9,621.8 1674.6,622.3 1679.4,623.9 1684.1,623.6 1688.8,622.7 1693.5,623.8 1698.3,623.4 1703.0,624.7 1707.7,623.5 1712.5,623.1 1717.2,624.0 1721.9,623.9 1726.6,623.4 1731.4,623.6 1736.1,623.0 1740.8,624.8 1745.6,622.9 1750.3,623.7 1755.0,624.0 1759.7,624.0 1764.5,624.4 1769.2,624.7 1773.9,624.5 1778.7,623.6 1783.4,624.0 1788.1,623.6 1792.8,623.6 1797.6,623.8 1802.3,624.1 1807.0,622.5 1811.8,623.6 1816.5,624.7 1821.2,624.0 1825.9,625.3 1830.7,623.9 1835.4,624.0 1840.1,623.4 1844.9,624.8 1849.6,624.9 1854.3,623.6 1859.1,623.6 1863.8,624.0 1868.5,623.2 1873.2,623.7 1878.0,624.4 1882.7,624.4 1887.4,622.8 1892.2,623.4 1896.9,622.7 1901.6,624.1 1906.3,623.4 1911.1,623.9 1915.8,622.9 1920.5,623.0 1925.3,623.1 1930.0,622.6 1934.7,623.0 1939.4,624.3 1944.2,623.7 1948.9,624.2 1953.6,623.8 1958.4,623.5 1963.1,623.0 1967.8,622.9 1972.5,623.3 1977.3,624.2 1982.0,624.0 1986.7,623.7 1991.5,623.2 1996.2,623.3 2000.9,623.3 2005.6,623.2 2010.4,623.4 2015.1,624.3" fill="none" stroke="#fff" stroke-opacity="0.55" stroke-width="1.5" stroke-dasharray="2.2 3.1 1.2 4.3 3.0 2.4 0.9 5.2 2.6 1.7"/>
</g>
<text transform="translate(79.25,846.20) scale(1.0837,1)" style="font-size:23.6px;fill:#111;">0.4</text>
<text transform="translate(79.24,748.40) scale(1.0968,1)" style="font-size:23.6px;fill:#111;">0.6</text>
<text transform="translate(79.24,645.90) scale(1.0968,1)" style="font-size:23.6px;fill:#111;">0.8</text>
<text transform="translate(78.23,543.40) scale(1.1240,1)" style="font-size:23.6px;fill:#111;">1.0</text>
<text transform="translate(115.63,871.00) scale(1.1064,1)" style="font-size:24.2px;fill:#111;">0</text>
<text transform="translate(479.09,871.00) scale(1.1688,1)" style="font-size:24.2px;fill:#111;">200</text>
<text transform="translate(858.12,871.00) scale(1.1502,1)" style="font-size:24.2px;fill:#111;">400</text>
<text transform="translate(1235.69,871.00) scale(1.1688,1)" style="font-size:24.2px;fill:#111;">600</text>
<text transform="translate(1614.13,871.00) scale(1.1650,1)" style="font-size:24.2px;fill:#111;">800</text>
<text transform="translate(1986.97,871.00) scale(1.0764,1)" style="font-size:24.2px;fill:#111;">1000</text>
<text transform="translate(978.33,918.80) scale(1.0679,1)" style="font-size:29.6px;fill:#111;">Time (h)</text>
<g transform="translate(51.40,785.84) rotate(-90) scale(1.0165,1.0000)">
<text x="0.00" y="0.00" style="font-size:31.9px;fill:#111;">Normalized PCE</text>
</g>
<text transform="translate(1923.22,524.90) scale(1.1415,1)" style="font-size:26.6px;fill:#f5821f;">99.6%</text>
<text transform="translate(1923.22,607.60) scale(1.1415,1)" style="font-size:26.6px;fill:#ed1f24;">93.2%</text>
<text transform="translate(1923.22,663.10) scale(1.1415,1)" style="font-size:26.6px;fill:#3146a6;">82.4%</text>
<line x1="148.90" y1="719.90" x2="210.90" y2="719.90" stroke="#3146a6" stroke-width="2.0"/>
<circle cx="179.2" cy="719.9" r="6.7" fill="url(#gB)"/>
<text transform="translate(224.45,730.50) scale(1.0793,1)" style="font-size:26.2px;fill:#3146a6;stroke:#3146a6;stroke-width:0.3px;">Control</text>
<line x1="148.90" y1="764.00" x2="210.90" y2="764.00" stroke="#ed1f24" stroke-width="2.0"/>
<circle cx="179.2" cy="764.0" r="6.7" fill="url(#gR)"/>
<text transform="translate(216.00,774.60) scale(1.0938,1)" style="font-size:26.2px;fill:#ed1f24;stroke:#ed1f24;stroke-width:0.3px;">ISO-I</text>
<line x1="148.90" y1="808.00" x2="210.90" y2="808.00" stroke="#f5821f" stroke-width="2.0"/>
<circle cx="179.2" cy="808.0" r="6.7" fill="url(#gO)"/>
<text transform="translate(216.02,818.60) scale(1.0852,1)" style="font-size:26.2px;fill:#f5821f;stroke:#f5821f;stroke-width:0.3px;">ISO-Br</text>
<g transform="translate(716.0,795.4) scale(1.058,1)"><text id="mpp" style="font-size:34.4px;fill:#111">MPP tracking under 1-sun illumination at 50 <tspan dy="-11.5" style="font-size:23px">o</tspan><tspan dy="11.5">C in a nitrogen atmosphere</tspan></text></g>
<text class="sf" transform="translate(12.47,504.30) scale(1.0033,1)" style="font-size:60px;fill:#111;">d)</text>
</svg>
</body></html>
